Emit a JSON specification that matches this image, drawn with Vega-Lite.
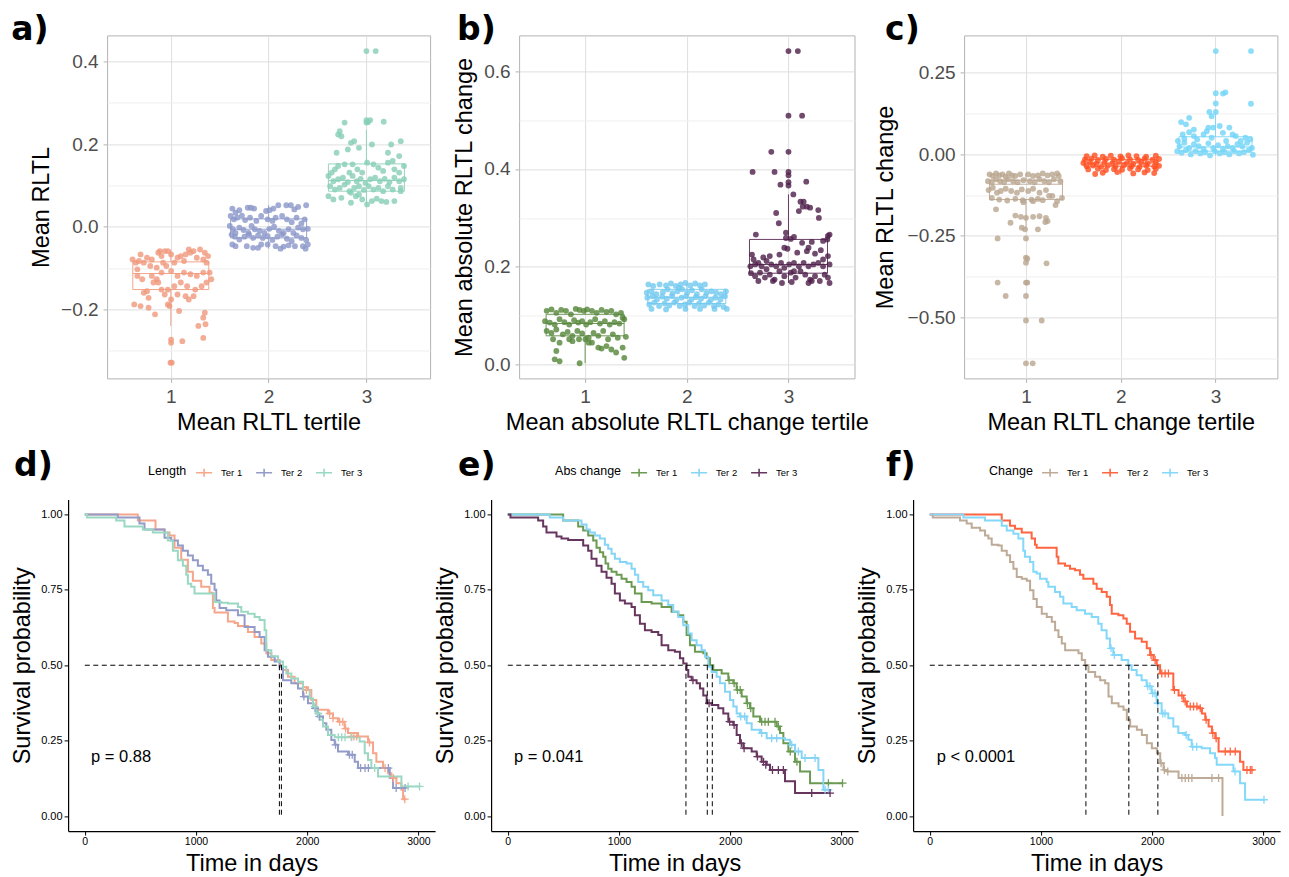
{
"$schema":"https://vega.github.io/schema/vega-lite/v6.json",
"background":"white",
"padding":{"left":10.1,"top":13.4,"right":5,"bottom":3},
"autosize":{"type":"pad"},
"config":{"font":"Liberation Sans","view":{"stroke":null},
"title":{"font":"DejaVu Sans","fontSize":33,"fontWeight":"bold","anchor":"start","frame":"group","color":"#000"},
"axis":{"titleFontWeight":"normal","titleColor":"#000","labelFont":"Liberation Sans","titleFont":"Liberation Sans"},
"legend":{"labelFont":"Liberation Sans","titleFont":"Liberation Sans"}},
"datasets":{
"box":[
{"p":"a","g":1,"lo":-0.24,"q1":-0.152,"med":-0.113,"q3":-0.085,"hi":-0.055},
{"p":"a","g":2,"lo":-0.053,"q1":-0.027,"med":-0.006,"q3":0.019,"hi":0.052},
{"p":"a","g":3,"lo":0.054,"q1":0.086,"med":0.112,"q3":0.152,"hi":0.235},
{"p":"b","g":1,"lo":0.003,"q1":0.059,"med":0.084,"q3":0.103,"hi":0.113},
{"p":"b","g":2,"lo":0.113,"q1":0.125,"med":0.138,"q3":0.154,"hi":0.167},
{"p":"b","g":3,"lo":0.167,"q1":0.187,"med":0.205,"q3":0.256,"hi":0.348},
{"p":"c","g":1,"lo":-0.23,"q1":-0.139,"med":-0.092,"q3":-0.08,"hi":-0.059},
{"p":"c","g":2,"lo":-0.062,"q1":-0.037,"med":-0.027,"q3":-0.016,"hi":-0.002},
{"p":"c","g":3,"lo":-0.004,"q1":0.009,"med":0.022,"q3":0.053,"hi":0.126}],
"pts":[
{"p":"a","g":1,"x":0.609,"y":-0.079},{"p":"a","g":1,"x":0.642,"y":-0.087},{"p":"a","g":1,"x":0.675,"y":-0.083},{"p":"a","g":1,"x":0.691,"y":-0.067},{"p":"a","g":1,"x":0.658,"y":-0.103},{"p":"a","g":1,"x":0.724,"y":-0.087},{"p":"a","g":1,"x":0.757,"y":-0.075},{"p":"a","g":1,"x":0.79,"y":-0.095},{"p":"a","g":1,"x":0.806,"y":-0.079},{"p":"a","g":1,"x":0.856,"y":-0.099},{"p":"a","g":1,"x":0.872,"y":-0.063},{"p":"a","g":1,"x":0.888,"y":-0.059},{"p":"a","g":1,"x":0.905,"y":-0.071},{"p":"a","g":1,"x":0.938,"y":-0.059},{"p":"a","g":1,"x":0.97,"y":-0.059},{"p":"a","g":1,"x":0.921,"y":-0.087},{"p":"a","g":1,"x":0.954,"y":-0.095},{"p":"a","g":1,"x":1.003,"y":-0.067},{"p":"a","g":1,"x":1.036,"y":-0.087},{"p":"a","g":1,"x":1.069,"y":-0.075},{"p":"a","g":1,"x":1.102,"y":-0.071},{"p":"a","g":1,"x":1.135,"y":-0.083},{"p":"a","g":1,"x":1.151,"y":-0.067},{"p":"a","g":1,"x":1.184,"y":-0.055},{"p":"a","g":1,"x":1.2,"y":-0.063},{"p":"a","g":1,"x":1.233,"y":-0.059},{"p":"a","g":1,"x":1.266,"y":-0.075},{"p":"a","g":1,"x":1.299,"y":-0.055},{"p":"a","g":1,"x":1.332,"y":-0.079},{"p":"a","g":1,"x":1.348,"y":-0.063},{"p":"a","g":1,"x":1.365,"y":-0.087},{"p":"a","g":1,"x":1.381,"y":-0.071},{"p":"a","g":1,"x":0.658,"y":-0.119},{"p":"a","g":1,"x":0.708,"y":-0.127},{"p":"a","g":1,"x":0.806,"y":-0.119},{"p":"a","g":1,"x":0.856,"y":-0.127},{"p":"a","g":1,"x":0.905,"y":-0.111},{"p":"a","g":1,"x":1.003,"y":-0.107},{"p":"a","g":1,"x":1.069,"y":-0.119},{"p":"a","g":1,"x":1.135,"y":-0.111},{"p":"a","g":1,"x":1.2,"y":-0.115},{"p":"a","g":1,"x":1.266,"y":-0.119},{"p":"a","g":1,"x":1.332,"y":-0.111},{"p":"a","g":1,"x":1.397,"y":-0.111},{"p":"a","g":1,"x":0.724,"y":-0.16},{"p":"a","g":1,"x":0.757,"y":-0.156},{"p":"a","g":1,"x":0.823,"y":-0.135},{"p":"a","g":1,"x":0.872,"y":-0.135},{"p":"a","g":1,"x":0.97,"y":-0.152},{"p":"a","g":1,"x":1.036,"y":-0.144},{"p":"a","g":1,"x":1.102,"y":-0.135},{"p":"a","g":1,"x":1.167,"y":-0.144},{"p":"a","g":1,"x":1.25,"y":-0.152},{"p":"a","g":1,"x":1.315,"y":-0.144},{"p":"a","g":1,"x":1.365,"y":-0.135},{"p":"a","g":1,"x":0.691,"y":-0.192},{"p":"a","g":1,"x":0.773,"y":-0.172},{"p":"a","g":1,"x":0.938,"y":-0.164},{"p":"a","g":1,"x":1.003,"y":-0.176},{"p":"a","g":1,"x":1.069,"y":-0.164},{"p":"a","g":1,"x":1.184,"y":-0.176},{"p":"a","g":1,"x":1.233,"y":-0.168},{"p":"a","g":1,"x":0.626,"y":-0.188},{"p":"a","g":1,"x":0.773,"y":-0.196},{"p":"a","g":1,"x":0.839,"y":-0.212},{"p":"a","g":1,"x":0.97,"y":-0.188},{"p":"a","g":1,"x":0.987,"y":-0.192},{"p":"a","g":1,"x":1.085,"y":-0.204},{"p":"a","g":1,"x":1.151,"y":-0.168},{"p":"a","g":1,"x":1.348,"y":-0.208},{"p":"a","g":1,"x":1.332,"y":-0.22},{"p":"a","g":1,"x":1.355,"y":-0.236},{"p":"a","g":1,"x":1.282,"y":-0.24},{"p":"a","g":1,"x":1.003,"y":-0.273},{"p":"a","g":1,"x":1.003,"y":-0.281},{"p":"a","g":1,"x":1.118,"y":-0.277},{"p":"a","g":1,"x":1.332,"y":-0.269},{"p":"a","g":1,"x":0.997,"y":-0.329},{"p":"a","g":1,"x":1.01,"y":-0.329},{"p":"a","g":1,"x":0.905,"y":-0.152},{"p":"a","g":1,"x":1.414,"y":-0.127},
{"p":"a","g":2,"x":1.629,"y":0.044},{"p":"a","g":2,"x":1.662,"y":0.034},{"p":"a","g":2,"x":1.701,"y":0.04},{"p":"a","g":2,"x":1.787,"y":0.046},{"p":"a","g":2,"x":1.819,"y":0.046},{"p":"a","g":2,"x":1.852,"y":0.044},{"p":"a","g":2,"x":1.974,"y":0.038},{"p":"a","g":2,"x":2.01,"y":0.04},{"p":"a","g":2,"x":2.049,"y":0.044},{"p":"a","g":2,"x":2.099,"y":0.052},{"p":"a","g":2,"x":2.181,"y":0.052},{"p":"a","g":2,"x":2.227,"y":0.052},{"p":"a","g":2,"x":2.263,"y":0.042},{"p":"a","g":2,"x":2.384,"y":0.052},{"p":"a","g":2,"x":2.302,"y":0.048},{"p":"a","g":2,"x":1.612,"y":0.026},{"p":"a","g":2,"x":1.645,"y":0.018},{"p":"a","g":2,"x":1.678,"y":0.022},{"p":"a","g":2,"x":1.727,"y":0.027},{"p":"a","g":2,"x":1.76,"y":0.016},{"p":"a","g":2,"x":1.81,"y":0.022},{"p":"a","g":2,"x":1.875,"y":0.014},{"p":"a","g":2,"x":1.924,"y":0.026},{"p":"a","g":2,"x":1.99,"y":0.018},{"p":"a","g":2,"x":2.039,"y":0.014},{"p":"a","g":2,"x":2.072,"y":0.022},{"p":"a","g":2,"x":2.138,"y":0.026},{"p":"a","g":2,"x":2.187,"y":0.018},{"p":"a","g":2,"x":2.236,"y":0.011},{"p":"a","g":2,"x":2.286,"y":0.022},{"p":"a","g":2,"x":2.335,"y":0.008},{"p":"a","g":2,"x":2.368,"y":0.018},{"p":"a","g":2,"x":1.603,"y":0.002},{"p":"a","g":2,"x":1.635,"y":-0.006},{"p":"a","g":2,"x":1.662,"y":-0.015},{"p":"a","g":2,"x":1.701,"y":-0.002},{"p":"a","g":2,"x":1.744,"y":-0.008},{"p":"a","g":2,"x":1.793,"y":-0.015},{"p":"a","g":2,"x":1.826,"y":0.002},{"p":"a","g":2,"x":1.859,"y":-0.006},{"p":"a","g":2,"x":1.908,"y":-0.01},{"p":"a","g":2,"x":1.957,"y":-0.015},{"p":"a","g":2,"x":2.007,"y":-0.005},{"p":"a","g":2,"x":2.056,"y":0.0},{"p":"a","g":2,"x":2.105,"y":-0.01},{"p":"a","g":2,"x":2.154,"y":-0.015},{"p":"a","g":2,"x":2.204,"y":-0.006},{"p":"a","g":2,"x":2.253,"y":-0.015},{"p":"a","g":2,"x":2.302,"y":-0.002},{"p":"a","g":2,"x":2.351,"y":-0.006},{"p":"a","g":2,"x":2.401,"y":-0.005},{"p":"a","g":2,"x":1.622,"y":-0.019},{"p":"a","g":2,"x":1.655,"y":-0.024},{"p":"a","g":2,"x":1.701,"y":-0.031},{"p":"a","g":2,"x":1.753,"y":-0.024},{"p":"a","g":2,"x":1.8,"y":-0.019},{"p":"a","g":2,"x":1.842,"y":-0.027},{"p":"a","g":2,"x":1.892,"y":-0.021},{"p":"a","g":2,"x":1.941,"y":-0.027},{"p":"a","g":2,"x":1.99,"y":-0.023},{"p":"a","g":2,"x":2.039,"y":-0.032},{"p":"a","g":2,"x":2.089,"y":-0.024},{"p":"a","g":2,"x":2.138,"y":-0.019},{"p":"a","g":2,"x":2.187,"y":-0.029},{"p":"a","g":2,"x":2.236,"y":-0.035},{"p":"a","g":2,"x":2.286,"y":-0.021},{"p":"a","g":2,"x":2.335,"y":-0.027},{"p":"a","g":2,"x":2.384,"y":-0.032},{"p":"a","g":2,"x":1.629,"y":-0.043},{"p":"a","g":2,"x":1.662,"y":-0.047},{"p":"a","g":2,"x":1.777,"y":-0.047},{"p":"a","g":2,"x":1.892,"y":-0.051},{"p":"a","g":2,"x":1.99,"y":-0.043},{"p":"a","g":2,"x":2.072,"y":-0.047},{"p":"a","g":2,"x":2.154,"y":-0.048},{"p":"a","g":2,"x":2.204,"y":-0.045},{"p":"a","g":2,"x":2.269,"y":-0.047},{"p":"a","g":2,"x":2.351,"y":-0.047},{"p":"a","g":2,"x":2.401,"y":-0.043},{"p":"a","g":2,"x":2.378,"y":-0.053},{"p":"a","g":2,"x":1.842,"y":-0.051},{"p":"a","g":2,"x":2.122,"y":-0.053},{"p":"a","g":2,"x":1.924,"y":-0.043},
{"p":"a","g":3,"x":3.0,"y":0.425},{"p":"a","g":3,"x":3.095,"y":0.425},{"p":"a","g":3,"x":3.0,"y":0.258},{"p":"a","g":3,"x":3.016,"y":0.253},{"p":"a","g":3,"x":3.039,"y":0.258},{"p":"a","g":3,"x":3.0,"y":0.252},{"p":"a","g":3,"x":3.177,"y":0.254},{"p":"a","g":3,"x":2.777,"y":0.252},{"p":"a","g":3,"x":2.711,"y":0.223},{"p":"a","g":3,"x":2.727,"y":0.231},{"p":"a","g":3,"x":2.744,"y":0.219},{"p":"a","g":3,"x":2.842,"y":0.203},{"p":"a","g":3,"x":2.875,"y":0.207},{"p":"a","g":3,"x":2.924,"y":0.191},{"p":"a","g":3,"x":2.81,"y":0.187},{"p":"a","g":3,"x":2.695,"y":0.179},{"p":"a","g":3,"x":3.056,"y":0.199},{"p":"a","g":3,"x":3.253,"y":0.199},{"p":"a","g":3,"x":3.351,"y":0.207},{"p":"a","g":3,"x":3.22,"y":0.179},{"p":"a","g":3,"x":3.335,"y":0.171},{"p":"a","g":3,"x":3.269,"y":0.159},{"p":"a","g":3,"x":2.645,"y":0.131},{"p":"a","g":3,"x":2.678,"y":0.139},{"p":"a","g":3,"x":2.711,"y":0.147},{"p":"a","g":3,"x":2.777,"y":0.151},{"p":"a","g":3,"x":2.826,"y":0.131},{"p":"a","g":3,"x":2.859,"y":0.151},{"p":"a","g":3,"x":2.908,"y":0.139},{"p":"a","g":3,"x":2.957,"y":0.131},{"p":"a","g":3,"x":3.007,"y":0.155},{"p":"a","g":3,"x":3.072,"y":0.151},{"p":"a","g":3,"x":3.122,"y":0.143},{"p":"a","g":3,"x":3.171,"y":0.135},{"p":"a","g":3,"x":3.22,"y":0.155},{"p":"a","g":3,"x":3.286,"y":0.139},{"p":"a","g":3,"x":3.335,"y":0.131},{"p":"a","g":3,"x":3.384,"y":0.147},{"p":"a","g":3,"x":2.612,"y":0.123},{"p":"a","g":3,"x":2.662,"y":0.11},{"p":"a","g":3,"x":2.711,"y":0.115},{"p":"a","g":3,"x":2.76,"y":0.119},{"p":"a","g":3,"x":2.81,"y":0.108},{"p":"a","g":3,"x":2.859,"y":0.123},{"p":"a","g":3,"x":2.901,"y":0.11},{"p":"a","g":3,"x":2.941,"y":0.116},{"p":"a","g":3,"x":2.99,"y":0.106},{"p":"a","g":3,"x":3.039,"y":0.115},{"p":"a","g":3,"x":3.089,"y":0.119},{"p":"a","g":3,"x":3.138,"y":0.11},{"p":"a","g":3,"x":3.187,"y":0.116},{"p":"a","g":3,"x":3.236,"y":0.108},{"p":"a","g":3,"x":3.286,"y":0.119},{"p":"a","g":3,"x":3.335,"y":0.11},{"p":"a","g":3,"x":3.384,"y":0.115},{"p":"a","g":3,"x":2.629,"y":0.098},{"p":"a","g":3,"x":2.678,"y":0.09},{"p":"a","g":3,"x":2.727,"y":0.094},{"p":"a","g":3,"x":2.777,"y":0.102},{"p":"a","g":3,"x":2.826,"y":0.086},{"p":"a","g":3,"x":2.875,"y":0.094},{"p":"a","g":3,"x":2.924,"y":0.098},{"p":"a","g":3,"x":2.974,"y":0.089},{"p":"a","g":3,"x":3.023,"y":0.098},{"p":"a","g":3,"x":3.072,"y":0.09},{"p":"a","g":3,"x":3.122,"y":0.094},{"p":"a","g":3,"x":3.171,"y":0.086},{"p":"a","g":3,"x":3.22,"y":0.098},{"p":"a","g":3,"x":3.269,"y":0.09},{"p":"a","g":3,"x":3.351,"y":0.094},{"p":"a","g":3,"x":2.612,"y":0.074},{"p":"a","g":3,"x":2.662,"y":0.066},{"p":"a","g":3,"x":2.744,"y":0.07},{"p":"a","g":3,"x":2.842,"y":0.058},{"p":"a","g":3,"x":2.892,"y":0.074},{"p":"a","g":3,"x":2.957,"y":0.066},{"p":"a","g":3,"x":3.007,"y":0.054},{"p":"a","g":3,"x":3.056,"y":0.062},{"p":"a","g":3,"x":3.105,"y":0.068},{"p":"a","g":3,"x":3.154,"y":0.062},{"p":"a","g":3,"x":3.204,"y":0.06},{"p":"a","g":3,"x":3.286,"y":0.062},{"p":"a","g":3,"x":2.842,"y":0.082},{"p":"a","g":3,"x":2.924,"y":0.078},{"p":"a","g":3,"x":3.351,"y":0.086},
{"p":"b","g":1,"x":0.622,"y":0.11},{"p":"b","g":1,"x":0.669,"y":0.113},{"p":"b","g":1,"x":0.717,"y":0.106},{"p":"b","g":1,"x":0.765,"y":0.112},{"p":"b","g":1,"x":0.812,"y":0.11},{"p":"b","g":1,"x":0.86,"y":0.103},{"p":"b","g":1,"x":0.908,"y":0.114},{"p":"b","g":1,"x":0.946,"y":0.112},{"p":"b","g":1,"x":0.987,"y":0.11},{"p":"b","g":1,"x":1.019,"y":0.113},{"p":"b","g":1,"x":1.067,"y":0.11},{"p":"b","g":1,"x":1.114,"y":0.106},{"p":"b","g":1,"x":1.162,"y":0.112},{"p":"b","g":1,"x":1.21,"y":0.108},{"p":"b","g":1,"x":1.258,"y":0.11},{"p":"b","g":1,"x":1.305,"y":0.103},{"p":"b","g":1,"x":1.353,"y":0.106},{"p":"b","g":1,"x":1.369,"y":0.096},{"p":"b","g":1,"x":1.385,"y":0.093},{"p":"b","g":1,"x":0.606,"y":0.089},{"p":"b","g":1,"x":0.653,"y":0.086},{"p":"b","g":1,"x":0.701,"y":0.082},{"p":"b","g":1,"x":0.749,"y":0.093},{"p":"b","g":1,"x":0.797,"y":0.087},{"p":"b","g":1,"x":0.844,"y":0.082},{"p":"b","g":1,"x":0.892,"y":0.091},{"p":"b","g":1,"x":0.933,"y":0.086},{"p":"b","g":1,"x":0.971,"y":0.089},{"p":"b","g":1,"x":1.01,"y":0.082},{"p":"b","g":1,"x":1.051,"y":0.087},{"p":"b","g":1,"x":1.099,"y":0.093},{"p":"b","g":1,"x":1.146,"y":0.084},{"p":"b","g":1,"x":1.194,"y":0.089},{"p":"b","g":1,"x":1.242,"y":0.082},{"p":"b","g":1,"x":1.289,"y":0.087},{"p":"b","g":1,"x":1.337,"y":0.084},{"p":"b","g":1,"x":0.622,"y":0.069},{"p":"b","g":1,"x":0.669,"y":0.065},{"p":"b","g":1,"x":0.717,"y":0.072},{"p":"b","g":1,"x":0.781,"y":0.062},{"p":"b","g":1,"x":0.828,"y":0.067},{"p":"b","g":1,"x":0.876,"y":0.059},{"p":"b","g":1,"x":0.924,"y":0.069},{"p":"b","g":1,"x":0.971,"y":0.064},{"p":"b","g":1,"x":1.035,"y":0.055},{"p":"b","g":1,"x":1.083,"y":0.065},{"p":"b","g":1,"x":1.13,"y":0.059},{"p":"b","g":1,"x":1.178,"y":0.069},{"p":"b","g":1,"x":1.226,"y":0.052},{"p":"b","g":1,"x":1.273,"y":0.062},{"p":"b","g":1,"x":1.321,"y":0.055},{"p":"b","g":1,"x":1.401,"y":0.057},{"p":"b","g":1,"x":0.685,"y":0.052},{"p":"b","g":1,"x":0.749,"y":0.045},{"p":"b","g":1,"x":0.876,"y":0.048},{"p":"b","g":1,"x":0.94,"y":0.052},{"p":"b","g":1,"x":1.067,"y":0.045},{"p":"b","g":1,"x":1.13,"y":0.035},{"p":"b","g":1,"x":1.162,"y":0.033},{"p":"b","g":1,"x":1.21,"y":0.038},{"p":"b","g":1,"x":1.258,"y":0.031},{"p":"b","g":1,"x":1.369,"y":0.035},{"p":"b","g":1,"x":1.305,"y":0.025},{"p":"b","g":1,"x":1.385,"y":0.014},{"p":"b","g":1,"x":0.717,"y":0.028},{"p":"b","g":1,"x":0.701,"y":0.011},{"p":"b","g":1,"x":0.749,"y":0.007},{"p":"b","g":1,"x":0.946,"y":0.003},{"p":"b","g":1,"x":1.003,"y":0.052},{"p":"b","g":1,"x":1.035,"y":0.045},{"p":"b","g":1,"x":0.844,"y":0.052},
{"p":"b","g":2,"x":1.622,"y":0.164},{"p":"b","g":2,"x":1.669,"y":0.161},{"p":"b","g":2,"x":1.733,"y":0.164},{"p":"b","g":2,"x":1.796,"y":0.162},{"p":"b","g":2,"x":1.844,"y":0.166},{"p":"b","g":2,"x":1.892,"y":0.161},{"p":"b","g":2,"x":1.94,"y":0.164},{"p":"b","g":2,"x":1.987,"y":0.167},{"p":"b","g":2,"x":2.035,"y":0.162},{"p":"b","g":2,"x":2.083,"y":0.166},{"p":"b","g":2,"x":2.13,"y":0.162},{"p":"b","g":2,"x":2.178,"y":0.164},{"p":"b","g":2,"x":1.924,"y":0.157},{"p":"b","g":2,"x":1.606,"y":0.147},{"p":"b","g":2,"x":1.653,"y":0.15},{"p":"b","g":2,"x":1.701,"y":0.144},{"p":"b","g":2,"x":1.765,"y":0.148},{"p":"b","g":2,"x":1.812,"y":0.154},{"p":"b","g":2,"x":1.86,"y":0.146},{"p":"b","g":2,"x":1.908,"y":0.15},{"p":"b","g":2,"x":1.955,"y":0.154},{"p":"b","g":2,"x":2.003,"y":0.147},{"p":"b","g":2,"x":2.051,"y":0.152},{"p":"b","g":2,"x":2.099,"y":0.144},{"p":"b","g":2,"x":2.146,"y":0.154},{"p":"b","g":2,"x":2.194,"y":0.147},{"p":"b","g":2,"x":2.242,"y":0.15},{"p":"b","g":2,"x":2.289,"y":0.147},{"p":"b","g":2,"x":2.337,"y":0.144},{"p":"b","g":2,"x":2.385,"y":0.15},{"p":"b","g":2,"x":1.612,"y":0.137},{"p":"b","g":2,"x":1.663,"y":0.14},{"p":"b","g":2,"x":1.707,"y":0.133},{"p":"b","g":2,"x":1.758,"y":0.139},{"p":"b","g":2,"x":1.803,"y":0.135},{"p":"b","g":2,"x":1.854,"y":0.14},{"p":"b","g":2,"x":1.898,"y":0.132},{"p":"b","g":2,"x":1.949,"y":0.137},{"p":"b","g":2,"x":1.994,"y":0.14},{"p":"b","g":2,"x":2.045,"y":0.133},{"p":"b","g":2,"x":2.089,"y":0.138},{"p":"b","g":2,"x":2.14,"y":0.135},{"p":"b","g":2,"x":2.184,"y":0.14},{"p":"b","g":2,"x":2.235,"y":0.132},{"p":"b","g":2,"x":2.28,"y":0.137},{"p":"b","g":2,"x":2.331,"y":0.133},{"p":"b","g":2,"x":2.375,"y":0.14},{"p":"b","g":2,"x":1.631,"y":0.123},{"p":"b","g":2,"x":1.679,"y":0.127},{"p":"b","g":2,"x":1.727,"y":0.12},{"p":"b","g":2,"x":1.781,"y":0.125},{"p":"b","g":2,"x":1.828,"y":0.121},{"p":"b","g":2,"x":1.876,"y":0.127},{"p":"b","g":2,"x":1.93,"y":0.12},{"p":"b","g":2,"x":1.981,"y":0.123},{"p":"b","g":2,"x":2.025,"y":0.127},{"p":"b","g":2,"x":2.076,"y":0.12},{"p":"b","g":2,"x":2.121,"y":0.125},{"p":"b","g":2,"x":2.172,"y":0.121},{"p":"b","g":2,"x":2.216,"y":0.127},{"p":"b","g":2,"x":2.267,"y":0.12},{"p":"b","g":2,"x":2.312,"y":0.123},{"p":"b","g":2,"x":2.362,"y":0.118},{"p":"b","g":2,"x":2.394,"y":0.114},{"p":"b","g":2,"x":1.653,"y":0.114},{"p":"b","g":2,"x":1.796,"y":0.113},{"p":"b","g":2,"x":1.987,"y":0.114},{"p":"b","g":2,"x":2.13,"y":0.114},{"p":"b","g":2,"x":2.273,"y":0.114},
{"p":"b","g":3,"x":3.0,"y":0.641},{"p":"b","g":3,"x":3.092,"y":0.641},{"p":"b","g":3,"x":3.0,"y":0.509},{"p":"b","g":3,"x":3.134,"y":0.509},{"p":"b","g":3,"x":2.831,"y":0.435},{"p":"b","g":3,"x":3.0,"y":0.435},{"p":"b","g":3,"x":2.647,"y":0.394},{"p":"b","g":3,"x":2.863,"y":0.394},{"p":"b","g":3,"x":3.0,"y":0.394},{"p":"b","g":3,"x":3.0,"y":0.387},{"p":"b","g":3,"x":2.921,"y":0.368},{"p":"b","g":3,"x":3.0,"y":0.373},{"p":"b","g":3,"x":3.0,"y":0.366},{"p":"b","g":3,"x":3.175,"y":0.374},{"p":"b","g":3,"x":3.048,"y":0.348},{"p":"b","g":3,"x":2.879,"y":0.31},{"p":"b","g":3,"x":3.102,"y":0.314},{"p":"b","g":3,"x":3.14,"y":0.323},{"p":"b","g":3,"x":3.181,"y":0.323},{"p":"b","g":3,"x":3.213,"y":0.321},{"p":"b","g":3,"x":3.118,"y":0.333},{"p":"b","g":3,"x":3.149,"y":0.333},{"p":"b","g":3,"x":3.293,"y":0.316},{"p":"b","g":3,"x":3.299,"y":0.3},{"p":"b","g":3,"x":2.905,"y":0.289},{"p":"b","g":3,"x":2.975,"y":0.27},{"p":"b","g":3,"x":3.054,"y":0.261},{"p":"b","g":3,"x":2.679,"y":0.266},{"p":"b","g":3,"x":2.975,"y":0.259},{"p":"b","g":3,"x":3.022,"y":0.257},{"p":"b","g":3,"x":3.229,"y":0.251},{"p":"b","g":3,"x":3.34,"y":0.253},{"p":"b","g":3,"x":3.382,"y":0.256},{"p":"b","g":3,"x":3.388,"y":0.263},{"p":"b","g":3,"x":3.404,"y":0.266},{"p":"b","g":3,"x":3.197,"y":0.239},{"p":"b","g":3,"x":3.134,"y":0.249},{"p":"b","g":3,"x":2.641,"y":0.225},{"p":"b","g":3,"x":2.657,"y":0.215},{"p":"b","g":3,"x":2.752,"y":0.219},{"p":"b","g":3,"x":2.816,"y":0.222},{"p":"b","g":3,"x":2.911,"y":0.225},{"p":"b","g":3,"x":2.959,"y":0.239},{"p":"b","g":3,"x":2.99,"y":0.237},{"p":"b","g":3,"x":3.086,"y":0.229},{"p":"b","g":3,"x":3.181,"y":0.232},{"p":"b","g":3,"x":3.261,"y":0.227},{"p":"b","g":3,"x":3.318,"y":0.234},{"p":"b","g":3,"x":3.388,"y":0.222},{"p":"b","g":3,"x":3.34,"y":0.215},{"p":"b","g":3,"x":2.625,"y":0.201},{"p":"b","g":3,"x":2.672,"y":0.205},{"p":"b","g":3,"x":2.704,"y":0.208},{"p":"b","g":3,"x":2.736,"y":0.201},{"p":"b","g":3,"x":2.784,"y":0.212},{"p":"b","g":3,"x":2.831,"y":0.205},{"p":"b","g":3,"x":2.879,"y":0.201},{"p":"b","g":3,"x":2.927,"y":0.208},{"p":"b","g":3,"x":2.959,"y":0.198},{"p":"b","g":3,"x":3.006,"y":0.205},{"p":"b","g":3,"x":3.054,"y":0.208},{"p":"b","g":3,"x":3.102,"y":0.201},{"p":"b","g":3,"x":3.149,"y":0.208},{"p":"b","g":3,"x":3.197,"y":0.201},{"p":"b","g":3,"x":3.245,"y":0.205},{"p":"b","g":3,"x":3.293,"y":0.208},{"p":"b","g":3,"x":3.34,"y":0.201},{"p":"b","g":3,"x":3.404,"y":0.205},{"p":"b","g":3,"x":2.631,"y":0.187},{"p":"b","g":3,"x":2.672,"y":0.181},{"p":"b","g":3,"x":2.72,"y":0.188},{"p":"b","g":3,"x":2.768,"y":0.178},{"p":"b","g":3,"x":2.816,"y":0.184},{"p":"b","g":3,"x":2.863,"y":0.174},{"p":"b","g":3,"x":2.911,"y":0.191},{"p":"b","g":3,"x":2.959,"y":0.181},{"p":"b","g":3,"x":3.022,"y":0.188},{"p":"b","g":3,"x":3.07,"y":0.178},{"p":"b","g":3,"x":3.118,"y":0.191},{"p":"b","g":3,"x":3.165,"y":0.184},{"p":"b","g":3,"x":3.213,"y":0.174},{"p":"b","g":3,"x":3.261,"y":0.181},{"p":"b","g":3,"x":3.308,"y":0.171},{"p":"b","g":3,"x":3.356,"y":0.184},{"p":"b","g":3,"x":3.388,"y":0.178},{"p":"b","g":3,"x":2.704,"y":0.171},{"p":"b","g":3,"x":2.847,"y":0.171},{"p":"b","g":3,"x":2.936,"y":0.167},{"p":"b","g":3,"x":3.032,"y":0.169},{"p":"b","g":3,"x":3.197,"y":0.167},{"p":"b","g":3,"x":3.229,"y":0.171},{"p":"b","g":3,"x":3.404,"y":0.167},{"p":"b","g":3,"x":2.784,"y":0.195},{"p":"b","g":3,"x":3.054,"y":0.191},
{"p":"c","g":1,"x":0.616,"y":-0.062},{"p":"c","g":1,"x":0.65,"y":-0.067},{"p":"c","g":1,"x":0.684,"y":-0.059},{"p":"c","g":1,"x":0.718,"y":-0.065},{"p":"c","g":1,"x":0.752,"y":-0.062},{"p":"c","g":1,"x":0.786,"y":-0.069},{"p":"c","g":1,"x":0.82,"y":-0.059},{"p":"c","g":1,"x":0.854,"y":-0.065},{"p":"c","g":1,"x":0.888,"y":-0.067},{"p":"c","g":1,"x":0.939,"y":-0.062},{"p":"c","g":1,"x":1.024,"y":-0.062},{"p":"c","g":1,"x":1.075,"y":-0.067},{"p":"c","g":1,"x":1.126,"y":-0.065},{"p":"c","g":1,"x":1.177,"y":-0.059},{"p":"c","g":1,"x":1.228,"y":-0.065},{"p":"c","g":1,"x":1.278,"y":-0.062},{"p":"c","g":1,"x":1.329,"y":-0.059},{"p":"c","g":1,"x":1.346,"y":-0.067},{"p":"c","g":1,"x":0.599,"y":-0.083},{"p":"c","g":1,"x":0.64,"y":-0.086},{"p":"c","g":1,"x":0.684,"y":-0.077},{"p":"c","g":1,"x":0.728,"y":-0.083},{"p":"c","g":1,"x":0.769,"y":-0.086},{"p":"c","g":1,"x":0.81,"y":-0.077},{"p":"c","g":1,"x":0.864,"y":-0.083},{"p":"c","g":1,"x":0.912,"y":-0.086},{"p":"c","g":1,"x":0.973,"y":-0.08},{"p":"c","g":1,"x":1.041,"y":-0.083},{"p":"c","g":1,"x":1.092,"y":-0.086},{"p":"c","g":1,"x":1.143,"y":-0.077},{"p":"c","g":1,"x":1.194,"y":-0.083},{"p":"c","g":1,"x":1.244,"y":-0.086},{"p":"c","g":1,"x":1.295,"y":-0.077},{"p":"c","g":1,"x":1.363,"y":-0.083},{"p":"c","g":1,"x":0.606,"y":-0.11},{"p":"c","g":1,"x":0.65,"y":-0.103},{"p":"c","g":1,"x":0.694,"y":-0.118},{"p":"c","g":1,"x":0.735,"y":-0.113},{"p":"c","g":1,"x":0.786,"y":-0.106},{"p":"c","g":1,"x":0.844,"y":-0.113},{"p":"c","g":1,"x":0.905,"y":-0.118},{"p":"c","g":1,"x":0.956,"y":-0.108},{"p":"c","g":1,"x":1.024,"y":-0.113},{"p":"c","g":1,"x":1.075,"y":-0.106},{"p":"c","g":1,"x":1.143,"y":-0.118},{"p":"c","g":1,"x":1.211,"y":-0.11},{"p":"c","g":1,"x":1.278,"y":-0.128},{"p":"c","g":1,"x":1.329,"y":-0.144},{"p":"c","g":1,"x":1.38,"y":-0.134},{"p":"c","g":1,"x":0.64,"y":-0.134},{"p":"c","g":1,"x":0.718,"y":-0.139},{"p":"c","g":1,"x":0.803,"y":-0.142},{"p":"c","g":1,"x":0.888,"y":-0.137},{"p":"c","g":1,"x":0.966,"y":-0.141},{"p":"c","g":1,"x":1.058,"y":-0.139},{"p":"c","g":1,"x":1.126,"y":-0.137},{"p":"c","g":1,"x":1.177,"y":-0.141},{"p":"c","g":1,"x":1.244,"y":-0.128},{"p":"c","g":1,"x":0.973,"y":-0.147},{"p":"c","g":1,"x":1.075,"y":-0.144},{"p":"c","g":1,"x":0.684,"y":-0.169},{"p":"c","g":1,"x":0.837,"y":-0.21},{"p":"c","g":1,"x":0.888,"y":-0.188},{"p":"c","g":1,"x":0.946,"y":-0.192},{"p":"c","g":1,"x":1.0,"y":-0.195},{"p":"c","g":1,"x":1.075,"y":-0.192},{"p":"c","g":1,"x":1.143,"y":-0.19},{"p":"c","g":1,"x":1.211,"y":-0.195},{"p":"c","g":1,"x":1.228,"y":-0.205},{"p":"c","g":1,"x":1.126,"y":-0.23},{"p":"c","g":1,"x":1.204,"y":-0.208},{"p":"c","g":1,"x":0.956,"y":-0.225},{"p":"c","g":1,"x":0.99,"y":-0.23},{"p":"c","g":1,"x":0.701,"y":-0.258},{"p":"c","g":1,"x":1.0,"y":-0.258},{"p":"c","g":1,"x":1.0,"y":-0.317},{"p":"c","g":1,"x":1.014,"y":-0.32},{"p":"c","g":1,"x":1.0,"y":-0.332},{"p":"c","g":1,"x":1.217,"y":-0.334},{"p":"c","g":1,"x":0.701,"y":-0.393},{"p":"c","g":1,"x":1.0,"y":-0.393},{"p":"c","g":1,"x":1.014,"y":-0.393},{"p":"c","g":1,"x":0.786,"y":-0.434},{"p":"c","g":1,"x":1.0,"y":-0.434},{"p":"c","g":1,"x":1.0,"y":-0.509},{"p":"c","g":1,"x":1.166,"y":-0.509},{"p":"c","g":1,"x":1.0,"y":-0.64},{"p":"c","g":1,"x":1.071,"y":-0.64},{"p":"c","g":1,"x":1.312,"y":-0.156},
{"p":"c","g":2,"x":1.64,"y":-0.006},{"p":"c","g":2,"x":1.725,"y":-0.004},{"p":"c","g":2,"x":1.81,"y":-0.008},{"p":"c","g":2,"x":1.895,"y":-0.005},{"p":"c","g":2,"x":1.997,"y":-0.007},{"p":"c","g":2,"x":2.081,"y":-0.004},{"p":"c","g":2,"x":2.166,"y":-0.006},{"p":"c","g":2,"x":2.268,"y":-0.008},{"p":"c","g":2,"x":2.37,"y":-0.005},{"p":"c","g":2,"x":1.623,"y":-0.016},{"p":"c","g":2,"x":1.691,"y":-0.014},{"p":"c","g":2,"x":1.759,"y":-0.018},{"p":"c","g":2,"x":1.844,"y":-0.015},{"p":"c","g":2,"x":1.929,"y":-0.017},{"p":"c","g":2,"x":2.014,"y":-0.013},{"p":"c","g":2,"x":2.098,"y":-0.016},{"p":"c","g":2,"x":2.183,"y":-0.018},{"p":"c","g":2,"x":2.251,"y":-0.014},{"p":"c","g":2,"x":2.336,"y":-0.017},{"p":"c","g":2,"x":2.404,"y":-0.015},{"p":"c","g":2,"x":1.606,"y":-0.027},{"p":"c","g":2,"x":1.674,"y":-0.025},{"p":"c","g":2,"x":1.742,"y":-0.029},{"p":"c","g":2,"x":1.827,"y":-0.026},{"p":"c","g":2,"x":1.912,"y":-0.028},{"p":"c","g":2,"x":1.98,"y":-0.024},{"p":"c","g":2,"x":2.065,"y":-0.027},{"p":"c","g":2,"x":2.132,"y":-0.029},{"p":"c","g":2,"x":2.217,"y":-0.025},{"p":"c","g":2,"x":2.285,"y":-0.028},{"p":"c","g":2,"x":2.37,"y":-0.026},{"p":"c","g":2,"x":1.64,"y":-0.037},{"p":"c","g":2,"x":1.708,"y":-0.035},{"p":"c","g":2,"x":1.793,"y":-0.039},{"p":"c","g":2,"x":1.861,"y":-0.036},{"p":"c","g":2,"x":1.946,"y":-0.038},{"p":"c","g":2,"x":2.031,"y":-0.034},{"p":"c","g":2,"x":2.115,"y":-0.037},{"p":"c","g":2,"x":2.2,"y":-0.039},{"p":"c","g":2,"x":2.268,"y":-0.035},{"p":"c","g":2,"x":2.353,"y":-0.038},{"p":"c","g":2,"x":2.404,"y":-0.036},{"p":"c","g":2,"x":1.657,"y":-0.047},{"p":"c","g":2,"x":1.759,"y":-0.045},{"p":"c","g":2,"x":1.844,"y":-0.049},{"p":"c","g":2,"x":1.929,"y":-0.046},{"p":"c","g":2,"x":2.014,"y":-0.048},{"p":"c","g":2,"x":2.098,"y":-0.044},{"p":"c","g":2,"x":2.183,"y":-0.047},{"p":"c","g":2,"x":2.285,"y":-0.049},{"p":"c","g":2,"x":2.37,"y":-0.045},{"p":"c","g":2,"x":1.81,"y":-0.057},{"p":"c","g":2,"x":1.963,"y":-0.055},{"p":"c","g":2,"x":2.132,"y":-0.059},{"p":"c","g":2,"x":2.251,"y":-0.056},{"p":"c","g":2,"x":2.353,"y":-0.058},{"p":"c","g":2,"x":1.73,"y":-0.061},
{"p":"c","g":3,"x":3.003,"y":0.315},{"p":"c","g":3,"x":3.374,"y":0.315},{"p":"c","g":3,"x":3.003,"y":0.186},{"p":"c","g":3,"x":3.078,"y":0.185},{"p":"c","g":3,"x":3.105,"y":0.189},{"p":"c","g":3,"x":3.374,"y":0.154},{"p":"c","g":3,"x":3.003,"y":0.155},{"p":"c","g":3,"x":2.935,"y":0.129},{"p":"c","g":3,"x":3.003,"y":0.129},{"p":"c","g":3,"x":2.959,"y":0.116},{"p":"c","g":3,"x":2.637,"y":0.098},{"p":"c","g":3,"x":2.722,"y":0.111},{"p":"c","g":3,"x":2.688,"y":0.091},{"p":"c","g":3,"x":2.772,"y":0.075},{"p":"c","g":3,"x":2.908,"y":0.07},{"p":"c","g":3,"x":2.976,"y":0.081},{"p":"c","g":3,"x":3.044,"y":0.086},{"p":"c","g":3,"x":3.146,"y":0.081},{"p":"c","g":3,"x":2.925,"y":0.081},{"p":"c","g":3,"x":2.603,"y":0.04},{"p":"c","g":3,"x":2.654,"y":0.06},{"p":"c","g":3,"x":2.722,"y":0.067},{"p":"c","g":3,"x":2.772,"y":0.055},{"p":"c","g":3,"x":2.874,"y":0.06},{"p":"c","g":3,"x":2.959,"y":0.05},{"p":"c","g":3,"x":3.078,"y":0.065},{"p":"c","g":3,"x":3.18,"y":0.06},{"p":"c","g":3,"x":3.214,"y":0.055},{"p":"c","g":3,"x":3.316,"y":0.05},{"p":"c","g":3,"x":3.367,"y":0.045},{"p":"c","g":3,"x":2.62,"y":0.024},{"p":"c","g":3,"x":2.671,"y":0.035},{"p":"c","g":3,"x":2.722,"y":0.019},{"p":"c","g":3,"x":2.772,"y":0.03},{"p":"c","g":3,"x":2.823,"y":0.024},{"p":"c","g":3,"x":2.874,"y":0.016},{"p":"c","g":3,"x":2.925,"y":0.033},{"p":"c","g":3,"x":2.976,"y":0.019},{"p":"c","g":3,"x":3.027,"y":0.027},{"p":"c","g":3,"x":3.078,"y":0.016},{"p":"c","g":3,"x":3.129,"y":0.024},{"p":"c","g":3,"x":3.18,"y":0.019},{"p":"c","g":3,"x":3.231,"y":0.03},{"p":"c","g":3,"x":3.282,"y":0.024},{"p":"c","g":3,"x":3.333,"y":0.035},{"p":"c","g":3,"x":3.384,"y":0.019},{"p":"c","g":3,"x":2.596,"y":0.009},{"p":"c","g":3,"x":2.643,"y":0.004},{"p":"c","g":3,"x":2.688,"y":0.012},{"p":"c","g":3,"x":2.739,"y":-0.001},{"p":"c","g":3,"x":2.789,"y":0.009},{"p":"c","g":3,"x":2.84,"y":0.002},{"p":"c","g":3,"x":2.891,"y":0.006},{"p":"c","g":3,"x":2.942,"y":-0.004},{"p":"c","g":3,"x":2.993,"y":0.009},{"p":"c","g":3,"x":3.044,"y":0.002},{"p":"c","g":3,"x":3.095,"y":0.006},{"p":"c","g":3,"x":3.146,"y":-0.001},{"p":"c","g":3,"x":3.197,"y":0.009},{"p":"c","g":3,"x":3.248,"y":0.002},{"p":"c","g":3,"x":3.299,"y":0.006},{"p":"c","g":3,"x":3.35,"y":0.012},{"p":"c","g":3,"x":3.394,"y":-0.002},{"p":"c","g":3,"x":2.806,"y":0.045},{"p":"c","g":3,"x":3.112,"y":0.04},{"p":"c","g":3,"x":3.265,"y":0.04},{"p":"c","g":3,"x":2.671,"y":0.047}],
"km":[
{"p":"d","g":"Ter 1","t":0,"s":1},{"p":"d","g":"Ter 1","t":477,"s":0.98},{"p":"d","g":"Ter 1","t":636,"s":0.95},{"p":"d","g":"Ter 1","t":717,"s":0.94},{"p":"d","g":"Ter 1","t":762,"s":0.93},{"p":"d","g":"Ter 1","t":807,"s":0.89},{"p":"d","g":"Ter 1","t":867,"s":0.85},{"p":"d","g":"Ter 1","t":927,"s":0.81},{"p":"d","g":"Ter 1","t":972,"s":0.78},{"p":"d","g":"Ter 1","t":1047,"s":0.76},{"p":"d","g":"Ter 1","t":1122,"s":0.74},{"p":"d","g":"Ter 1","t":1152,"s":0.69},{"p":"d","g":"Ter 1","t":1167,"s":0.675},{"p":"d","g":"Ter 1","t":1287,"s":0.645},{"p":"d","g":"Ter 1","t":1347,"s":0.64},{"p":"d","g":"Ter 1","t":1377,"s":0.63},{"p":"d","g":"Ter 1","t":1467,"s":0.61},{"p":"d","g":"Ter 1","t":1527,"s":0.594},{"p":"d","g":"Ter 1","t":1587,"s":0.572},{"p":"d","g":"Ter 1","t":1632,"s":0.54},{"p":"d","g":"Ter 1","t":1677,"s":0.517},{"p":"d","g":"Ter 1","t":1752,"s":0.5},{"p":"d","g":"Ter 1","t":1782,"s":0.484},{"p":"d","g":"Ter 1","t":1827,"s":0.462},{"p":"d","g":"Ter 1","t":1887,"s":0.44},{"p":"d","g":"Ter 1","t":1962,"s":0.427},{"p":"d","g":"Ter 1","t":2007,"s":0.418},{"p":"d","g":"Ter 1","t":2037,"s":0.385},{"p":"d","g":"Ter 1","t":2082,"s":0.352},{"p":"d","g":"Ter 1","t":2187,"s":0.34},{"p":"d","g":"Ter 1","t":2232,"s":0.324},{"p":"d","g":"Ter 1","t":2277,"s":0.313},{"p":"d","g":"Ter 1","t":2337,"s":0.29},{"p":"d","g":"Ter 1","t":2367,"s":0.275},{"p":"d","g":"Ter 1","t":2457,"s":0.264},{"p":"d","g":"Ter 1","t":2547,"s":0.244},{"p":"d","g":"Ter 1","t":2592,"s":0.208},{"p":"d","g":"Ter 1","t":2622,"s":0.18},{"p":"d","g":"Ter 1","t":2682,"s":0.159},{"p":"d","g":"Ter 1","t":2727,"s":0.142},{"p":"d","g":"Ter 1","t":2757,"s":0.126},{"p":"d","g":"Ter 1","t":2802,"s":0.109},{"p":"d","g":"Ter 1","t":2847,"s":0.087},{"p":"d","g":"Ter 1","t":2862,"s":0.056},{"p":"d","g":"Ter 1","t":2892,"s":0.056},
{"p":"d","g":"Ter 2","t":0,"s":1},{"p":"d","g":"Ter 2","t":297,"s":0.99},{"p":"d","g":"Ter 2","t":492,"s":0.97},{"p":"d","g":"Ter 2","t":537,"s":0.95},{"p":"d","g":"Ter 2","t":717,"s":0.923},{"p":"d","g":"Ter 2","t":777,"s":0.914},{"p":"d","g":"Ter 2","t":837,"s":0.897},{"p":"d","g":"Ter 2","t":882,"s":0.88},{"p":"d","g":"Ter 2","t":927,"s":0.864},{"p":"d","g":"Ter 2","t":972,"s":0.848},{"p":"d","g":"Ter 2","t":1017,"s":0.83},{"p":"d","g":"Ter 2","t":1062,"s":0.815},{"p":"d","g":"Ter 2","t":1107,"s":0.8},{"p":"d","g":"Ter 2","t":1137,"s":0.77},{"p":"d","g":"Ter 2","t":1167,"s":0.75},{"p":"d","g":"Ter 2","t":1182,"s":0.715},{"p":"d","g":"Ter 2","t":1212,"s":0.69},{"p":"d","g":"Ter 2","t":1272,"s":0.682},{"p":"d","g":"Ter 2","t":1377,"s":0.666},{"p":"d","g":"Ter 2","t":1437,"s":0.627},{"p":"d","g":"Ter 2","t":1527,"s":0.61},{"p":"d","g":"Ter 2","t":1572,"s":0.594},{"p":"d","g":"Ter 2","t":1617,"s":0.55},{"p":"d","g":"Ter 2","t":1647,"s":0.528},{"p":"d","g":"Ter 2","t":1707,"s":0.512},{"p":"d","g":"Ter 2","t":1752,"s":0.495},{"p":"d","g":"Ter 2","t":1782,"s":0.45},{"p":"d","g":"Ter 2","t":1857,"s":0.44},{"p":"d","g":"Ter 2","t":1917,"s":0.423},{"p":"d","g":"Ter 2","t":1962,"s":0.396},{"p":"d","g":"Ter 2","t":2007,"s":0.374},{"p":"d","g":"Ter 2","t":2052,"s":0.357},{"p":"d","g":"Ter 2","t":2097,"s":0.33},{"p":"d","g":"Ter 2","t":2142,"s":0.308},{"p":"d","g":"Ter 2","t":2172,"s":0.286},{"p":"d","g":"Ter 2","t":2217,"s":0.252},{"p":"d","g":"Ter 2","t":2247,"s":0.236},{"p":"d","g":"Ter 2","t":2277,"s":0.214},{"p":"d","g":"Ter 2","t":2367,"s":0.203},{"p":"d","g":"Ter 2","t":2427,"s":0.18},{"p":"d","g":"Ter 2","t":2457,"s":0.159},{"p":"d","g":"Ter 2","t":2742,"s":0.126},{"p":"d","g":"Ter 2","t":2772,"s":0.093},{"p":"d","g":"Ter 2","t":2892,"s":0.093},
{"p":"d","g":"Ter 3","t":0,"s":1},{"p":"d","g":"Ter 3","t":21,"s":0.99},{"p":"d","g":"Ter 3","t":282,"s":0.98},{"p":"d","g":"Ter 3","t":357,"s":0.96},{"p":"d","g":"Ter 3","t":522,"s":0.95},{"p":"d","g":"Ter 3","t":612,"s":0.94},{"p":"d","g":"Ter 3","t":747,"s":0.914},{"p":"d","g":"Ter 3","t":792,"s":0.88},{"p":"d","g":"Ter 3","t":837,"s":0.848},{"p":"d","g":"Ter 3","t":882,"s":0.83},{"p":"d","g":"Ter 3","t":912,"s":0.8},{"p":"d","g":"Ter 3","t":927,"s":0.77},{"p":"d","g":"Ter 3","t":957,"s":0.76},{"p":"d","g":"Ter 3","t":987,"s":0.738},{"p":"d","g":"Ter 3","t":1167,"s":0.71},{"p":"d","g":"Ter 3","t":1227,"s":0.707},{"p":"d","g":"Ter 3","t":1287,"s":0.705},{"p":"d","g":"Ter 3","t":1377,"s":0.693},{"p":"d","g":"Ter 3","t":1407,"s":0.677},{"p":"d","g":"Ter 3","t":1467,"s":0.671},{"p":"d","g":"Ter 3","t":1527,"s":0.66},{"p":"d","g":"Ter 3","t":1572,"s":0.65},{"p":"d","g":"Ter 3","t":1617,"s":0.616},{"p":"d","g":"Ter 3","t":1632,"s":0.55},{"p":"d","g":"Ter 3","t":1677,"s":0.53},{"p":"d","g":"Ter 3","t":1737,"s":0.512},{"p":"d","g":"Ter 3","t":1782,"s":0.495},{"p":"d","g":"Ter 3","t":1812,"s":0.473},{"p":"d","g":"Ter 3","t":1857,"s":0.456},{"p":"d","g":"Ter 3","t":1917,"s":0.445},{"p":"d","g":"Ter 3","t":1962,"s":0.418},{"p":"d","g":"Ter 3","t":2022,"s":0.39},{"p":"d","g":"Ter 3","t":2052,"s":0.363},{"p":"d","g":"Ter 3","t":2082,"s":0.34},{"p":"d","g":"Ter 3","t":2112,"s":0.319},{"p":"d","g":"Ter 3","t":2142,"s":0.297},{"p":"d","g":"Ter 3","t":2187,"s":0.269},{"p":"d","g":"Ter 3","t":2247,"s":0.261},{"p":"d","g":"Ter 3","t":2472,"s":0.247},{"p":"d","g":"Ter 3","t":2517,"s":0.208},{"p":"d","g":"Ter 3","t":2547,"s":0.186},{"p":"d","g":"Ter 3","t":2577,"s":0.159},{"p":"d","g":"Ter 3","t":2637,"s":0.131},{"p":"d","g":"Ter 3","t":2847,"s":0.098},{"p":"d","g":"Ter 3","t":3010,"s":0.098},
{"p":"e","g":"Ter 1","t":0,"s":1},{"p":"e","g":"Ter 1","t":498,"s":0.98},{"p":"e","g":"Ter 1","t":633,"s":0.96},{"p":"e","g":"Ter 1","t":678,"s":0.947},{"p":"e","g":"Ter 1","t":723,"s":0.93},{"p":"e","g":"Ter 1","t":768,"s":0.914},{"p":"e","g":"Ter 1","t":798,"s":0.89},{"p":"e","g":"Ter 1","t":828,"s":0.875},{"p":"e","g":"Ter 1","t":858,"s":0.86},{"p":"e","g":"Ter 1","t":879,"s":0.837},{"p":"e","g":"Ter 1","t":903,"s":0.82},{"p":"e","g":"Ter 1","t":933,"s":0.81},{"p":"e","g":"Ter 1","t":978,"s":0.8},{"p":"e","g":"Ter 1","t":1023,"s":0.787},{"p":"e","g":"Ter 1","t":1068,"s":0.776},{"p":"e","g":"Ter 1","t":1113,"s":0.76},{"p":"e","g":"Ter 1","t":1143,"s":0.738},{"p":"e","g":"Ter 1","t":1203,"s":0.71},{"p":"e","g":"Ter 1","t":1293,"s":0.705},{"p":"e","g":"Ter 1","t":1383,"s":0.693},{"p":"e","g":"Ter 1","t":1473,"s":0.677},{"p":"e","g":"Ter 1","t":1533,"s":0.666},{"p":"e","g":"Ter 1","t":1578,"s":0.644},{"p":"e","g":"Ter 1","t":1608,"s":0.6},{"p":"e","g":"Ter 1","t":1638,"s":0.566},{"p":"e","g":"Ter 1","t":1683,"s":0.545},{"p":"e","g":"Ter 1","t":1758,"s":0.54},{"p":"e","g":"Ter 1","t":1788,"s":0.523},{"p":"e","g":"Ter 1","t":1818,"s":0.5},{"p":"e","g":"Ter 1","t":1848,"s":0.484},{"p":"e","g":"Ter 1","t":1923,"s":0.473},{"p":"e","g":"Ter 1","t":1983,"s":0.45},{"p":"e","g":"Ter 1","t":2028,"s":0.44},{"p":"e","g":"Ter 1","t":2058,"s":0.418},{"p":"e","g":"Ter 1","t":2103,"s":0.396},{"p":"e","g":"Ter 1","t":2148,"s":0.374},{"p":"e","g":"Ter 1","t":2178,"s":0.357},{"p":"e","g":"Ter 1","t":2208,"s":0.33},{"p":"e","g":"Ter 1","t":2268,"s":0.313},{"p":"e","g":"Ter 1","t":2418,"s":0.297},{"p":"e","g":"Ter 1","t":2448,"s":0.275},{"p":"e","g":"Ter 1","t":2478,"s":0.241},{"p":"e","g":"Ter 1","t":2523,"s":0.214},{"p":"e","g":"Ter 1","t":2583,"s":0.18},{"p":"e","g":"Ter 1","t":2628,"s":0.148},{"p":"e","g":"Ter 1","t":2718,"s":0.109},{"p":"e","g":"Ter 1","t":3010,"s":0.109},
{"p":"e","g":"Ter 2","t":0,"s":1},{"p":"e","g":"Ter 2","t":378,"s":0.99},{"p":"e","g":"Ter 2","t":498,"s":0.98},{"p":"e","g":"Ter 2","t":663,"s":0.967},{"p":"e","g":"Ter 2","t":708,"s":0.95},{"p":"e","g":"Ter 2","t":738,"s":0.94},{"p":"e","g":"Ter 2","t":783,"s":0.93},{"p":"e","g":"Ter 2","t":828,"s":0.92},{"p":"e","g":"Ter 2","t":873,"s":0.9},{"p":"e","g":"Ter 2","t":903,"s":0.886},{"p":"e","g":"Ter 2","t":933,"s":0.87},{"p":"e","g":"Ter 2","t":963,"s":0.853},{"p":"e","g":"Ter 2","t":1008,"s":0.842},{"p":"e","g":"Ter 2","t":1068,"s":0.837},{"p":"e","g":"Ter 2","t":1113,"s":0.82},{"p":"e","g":"Ter 2","t":1143,"s":0.8},{"p":"e","g":"Ter 2","t":1173,"s":0.776},{"p":"e","g":"Ter 2","t":1218,"s":0.76},{"p":"e","g":"Ter 2","t":1263,"s":0.749},{"p":"e","g":"Ter 2","t":1308,"s":0.732},{"p":"e","g":"Ter 2","t":1383,"s":0.715},{"p":"e","g":"Ter 2","t":1443,"s":0.7},{"p":"e","g":"Ter 2","t":1488,"s":0.677},{"p":"e","g":"Ter 2","t":1533,"s":0.66},{"p":"e","g":"Ter 2","t":1578,"s":0.633},{"p":"e","g":"Ter 2","t":1623,"s":0.605},{"p":"e","g":"Ter 2","t":1653,"s":0.583},{"p":"e","g":"Ter 2","t":1698,"s":0.566},{"p":"e","g":"Ter 2","t":1743,"s":0.55},{"p":"e","g":"Ter 2","t":1773,"s":0.528},{"p":"e","g":"Ter 2","t":1803,"s":0.495},{"p":"e","g":"Ter 2","t":1833,"s":0.478},{"p":"e","g":"Ter 2","t":1878,"s":0.462},{"p":"e","g":"Ter 2","t":1908,"s":0.44},{"p":"e","g":"Ter 2","t":1953,"s":0.412},{"p":"e","g":"Ter 2","t":1998,"s":0.385},{"p":"e","g":"Ter 2","t":2028,"s":0.363},{"p":"e","g":"Ter 2","t":2058,"s":0.34},{"p":"e","g":"Ter 2","t":2088,"s":0.33},{"p":"e","g":"Ter 2","t":2148,"s":0.308},{"p":"e","g":"Ter 2","t":2193,"s":0.286},{"p":"e","g":"Ter 2","t":2268,"s":0.275},{"p":"e","g":"Ter 2","t":2328,"s":0.258},{"p":"e","g":"Ter 2","t":2493,"s":0.253},{"p":"e","g":"Ter 2","t":2538,"s":0.236},{"p":"e","g":"Ter 2","t":2583,"s":0.214},{"p":"e","g":"Ter 2","t":2643,"s":0.192},{"p":"e","g":"Ter 2","t":2793,"s":0.153},{"p":"e","g":"Ter 2","t":2838,"s":0.087},{"p":"e","g":"Ter 2","t":2883,"s":0.087},
{"p":"e","g":"Ter 3","t":0,"s":1},{"p":"e","g":"Ter 3","t":24,"s":0.99},{"p":"e","g":"Ter 3","t":273,"s":0.98},{"p":"e","g":"Ter 3","t":318,"s":0.96},{"p":"e","g":"Ter 3","t":348,"s":0.94},{"p":"e","g":"Ter 3","t":438,"s":0.927},{"p":"e","g":"Ter 3","t":483,"s":0.92},{"p":"e","g":"Ter 3","t":543,"s":0.915},{"p":"e","g":"Ter 3","t":678,"s":0.897},{"p":"e","g":"Ter 3","t":723,"s":0.88},{"p":"e","g":"Ter 3","t":753,"s":0.853},{"p":"e","g":"Ter 3","t":798,"s":0.83},{"p":"e","g":"Ter 3","t":843,"s":0.81},{"p":"e","g":"Ter 3","t":888,"s":0.79},{"p":"e","g":"Ter 3","t":933,"s":0.77},{"p":"e","g":"Ter 3","t":963,"s":0.738},{"p":"e","g":"Ter 3","t":1008,"s":0.715},{"p":"e","g":"Ter 3","t":1053,"s":0.705},{"p":"e","g":"Ter 3","t":1113,"s":0.693},{"p":"e","g":"Ter 3","t":1143,"s":0.666},{"p":"e","g":"Ter 3","t":1188,"s":0.638},{"p":"e","g":"Ter 3","t":1233,"s":0.616},{"p":"e","g":"Ter 3","t":1293,"s":0.61},{"p":"e","g":"Ter 3","t":1353,"s":0.6},{"p":"e","g":"Ter 3","t":1383,"s":0.566},{"p":"e","g":"Ter 3","t":1443,"s":0.55},{"p":"e","g":"Ter 3","t":1503,"s":0.545},{"p":"e","g":"Ter 3","t":1548,"s":0.523},{"p":"e","g":"Ter 3","t":1578,"s":0.506},{"p":"e","g":"Ter 3","t":1608,"s":0.484},{"p":"e","g":"Ter 3","t":1623,"s":0.462},{"p":"e","g":"Ter 3","t":1653,"s":0.45},{"p":"e","g":"Ter 3","t":1698,"s":0.44},{"p":"e","g":"Ter 3","t":1728,"s":0.423},{"p":"e","g":"Ter 3","t":1758,"s":0.4},{"p":"e","g":"Ter 3","t":1788,"s":0.374},{"p":"e","g":"Ter 3","t":1833,"s":0.368},{"p":"e","g":"Ter 3","t":1893,"s":0.357},{"p":"e","g":"Ter 3","t":1938,"s":0.34},{"p":"e","g":"Ter 3","t":1983,"s":0.313},{"p":"e","g":"Ter 3","t":2028,"s":0.302},{"p":"e","g":"Ter 3","t":2058,"s":0.269},{"p":"e","g":"Ter 3","t":2088,"s":0.241},{"p":"e","g":"Ter 3","t":2118,"s":0.225},{"p":"e","g":"Ter 3","t":2193,"s":0.214},{"p":"e","g":"Ter 3","t":2238,"s":0.197},{"p":"e","g":"Ter 3","t":2283,"s":0.18},{"p":"e","g":"Ter 3","t":2328,"s":0.17},{"p":"e","g":"Ter 3","t":2358,"s":0.153},{"p":"e","g":"Ter 3","t":2493,"s":0.115},{"p":"e","g":"Ter 3","t":2583,"s":0.076},{"p":"e","g":"Ter 3","t":2898,"s":0.076},
{"p":"f","g":"Ter 1","t":0,"s":1},{"p":"f","g":"Ter 1","t":27,"s":0.99},{"p":"f","g":"Ter 1","t":272,"s":0.98},{"p":"f","g":"Ter 1","t":332,"s":0.97},{"p":"f","g":"Ter 1","t":377,"s":0.956},{"p":"f","g":"Ter 1","t":452,"s":0.947},{"p":"f","g":"Ter 1","t":497,"s":0.93},{"p":"f","g":"Ter 1","t":527,"s":0.92},{"p":"f","g":"Ter 1","t":557,"s":0.9},{"p":"f","g":"Ter 1","t":617,"s":0.897},{"p":"f","g":"Ter 1","t":647,"s":0.88},{"p":"f","g":"Ter 1","t":692,"s":0.865},{"p":"f","g":"Ter 1","t":722,"s":0.842},{"p":"f","g":"Ter 1","t":752,"s":0.82},{"p":"f","g":"Ter 1","t":782,"s":0.793},{"p":"f","g":"Ter 1","t":827,"s":0.787},{"p":"f","g":"Ter 1","t":872,"s":0.78},{"p":"f","g":"Ter 1","t":902,"s":0.749},{"p":"f","g":"Ter 1","t":932,"s":0.72},{"p":"f","g":"Ter 1","t":962,"s":0.693},{"p":"f","g":"Ter 1","t":1007,"s":0.671},{"p":"f","g":"Ter 1","t":1052,"s":0.66},{"p":"f","g":"Ter 1","t":1097,"s":0.644},{"p":"f","g":"Ter 1","t":1127,"s":0.616},{"p":"f","g":"Ter 1","t":1157,"s":0.594},{"p":"f","g":"Ter 1","t":1187,"s":0.572},{"p":"f","g":"Ter 1","t":1217,"s":0.55},{"p":"f","g":"Ter 1","t":1337,"s":0.54},{"p":"f","g":"Ter 1","t":1367,"s":0.517},{"p":"f","g":"Ter 1","t":1397,"s":0.5},{"p":"f","g":"Ter 1","t":1427,"s":0.478},{"p":"f","g":"Ter 1","t":1487,"s":0.462},{"p":"f","g":"Ter 1","t":1532,"s":0.45},{"p":"f","g":"Ter 1","t":1577,"s":0.44},{"p":"f","g":"Ter 1","t":1607,"s":0.396},{"p":"f","g":"Ter 1","t":1637,"s":0.374},{"p":"f","g":"Ter 1","t":1697,"s":0.363},{"p":"f","g":"Ter 1","t":1742,"s":0.352},{"p":"f","g":"Ter 1","t":1772,"s":0.319},{"p":"f","g":"Ter 1","t":1802,"s":0.297},{"p":"f","g":"Ter 1","t":1862,"s":0.286},{"p":"f","g":"Ter 1","t":1907,"s":0.269},{"p":"f","g":"Ter 1","t":1952,"s":0.241},{"p":"f","g":"Ter 1","t":1997,"s":0.225},{"p":"f","g":"Ter 1","t":2042,"s":0.208},{"p":"f","g":"Ter 1","t":2072,"s":0.175},{"p":"f","g":"Ter 1","t":2102,"s":0.153},{"p":"f","g":"Ter 1","t":2132,"s":0.148},{"p":"f","g":"Ter 1","t":2237,"s":0.126},{"p":"f","g":"Ter 1","t":2632,"s":0},
{"p":"f","g":"Ter 2","t":0,"s":1},{"p":"f","g":"Ter 2","t":647,"s":0.98},{"p":"f","g":"Ter 2","t":721,"s":0.963},{"p":"f","g":"Ter 2","t":766,"s":0.953},{"p":"f","g":"Ter 2","t":827,"s":0.94},{"p":"f","g":"Ter 2","t":916,"s":0.92},{"p":"f","g":"Ter 2","t":946,"s":0.9},{"p":"f","g":"Ter 2","t":961,"s":0.89},{"p":"f","g":"Ter 2","t":1141,"s":0.86},{"p":"f","g":"Ter 2","t":1156,"s":0.837},{"p":"f","g":"Ter 2","t":1216,"s":0.83},{"p":"f","g":"Ter 2","t":1261,"s":0.82},{"p":"f","g":"Ter 2","t":1306,"s":0.815},{"p":"f","g":"Ter 2","t":1351,"s":0.8},{"p":"f","g":"Ter 2","t":1381,"s":0.787},{"p":"f","g":"Ter 2","t":1471,"s":0.77},{"p":"f","g":"Ter 2","t":1501,"s":0.754},{"p":"f","g":"Ter 2","t":1546,"s":0.743},{"p":"f","g":"Ter 2","t":1591,"s":0.727},{"p":"f","g":"Ter 2","t":1621,"s":0.7},{"p":"f","g":"Ter 2","t":1636,"s":0.671},{"p":"f","g":"Ter 2","t":1696,"s":0.666},{"p":"f","g":"Ter 2","t":1741,"s":0.655},{"p":"f","g":"Ter 2","t":1771,"s":0.638},{"p":"f","g":"Ter 2","t":1801,"s":0.611},{"p":"f","g":"Ter 2","t":1846,"s":0.589},{"p":"f","g":"Ter 2","t":1906,"s":0.578},{"p":"f","g":"Ter 2","t":1951,"s":0.556},{"p":"f","g":"Ter 2","t":1981,"s":0.534},{"p":"f","g":"Ter 2","t":2011,"s":0.517},{"p":"f","g":"Ter 2","t":2041,"s":0.5},{"p":"f","g":"Ter 2","t":2071,"s":0.473},{"p":"f","g":"Ter 2","t":2190,"s":0.418},{"p":"f","g":"Ter 2","t":2237,"s":0.4},{"p":"f","g":"Ter 2","t":2282,"s":0.38},{"p":"f","g":"Ter 2","t":2312,"s":0.363},{"p":"f","g":"Ter 2","t":2417,"s":0.357},{"p":"f","g":"Ter 2","t":2447,"s":0.34},{"p":"f","g":"Ter 2","t":2477,"s":0.319},{"p":"f","g":"Ter 2","t":2507,"s":0.297},{"p":"f","g":"Ter 2","t":2537,"s":0.275},{"p":"f","g":"Ter 2","t":2567,"s":0.258},{"p":"f","g":"Ter 2","t":2597,"s":0.214},{"p":"f","g":"Ter 2","t":2790,"s":0.18},{"p":"f","g":"Ter 2","t":2820,"s":0.153},{"p":"f","g":"Ter 2","t":2910,"s":0.153},
{"p":"f","g":"Ter 3","t":0,"s":1},{"p":"f","g":"Ter 3","t":302,"s":0.99},{"p":"f","g":"Ter 3","t":497,"s":0.98},{"p":"f","g":"Ter 3","t":647,"s":0.963},{"p":"f","g":"Ter 3","t":692,"s":0.947},{"p":"f","g":"Ter 3","t":752,"s":0.936},{"p":"f","g":"Ter 3","t":797,"s":0.92},{"p":"f","g":"Ter 3","t":841,"s":0.88},{"p":"f","g":"Ter 3","t":856,"s":0.86},{"p":"f","g":"Ter 3","t":901,"s":0.842},{"p":"f","g":"Ter 3","t":931,"s":0.81},{"p":"f","g":"Ter 3","t":961,"s":0.804},{"p":"f","g":"Ter 3","t":991,"s":0.787},{"p":"f","g":"Ter 3","t":1051,"s":0.776},{"p":"f","g":"Ter 3","t":1066,"s":0.76},{"p":"f","g":"Ter 3","t":1126,"s":0.743},{"p":"f","g":"Ter 3","t":1171,"s":0.727},{"p":"f","g":"Ter 3","t":1201,"s":0.705},{"p":"f","g":"Ter 3","t":1276,"s":0.693},{"p":"f","g":"Ter 3","t":1321,"s":0.682},{"p":"f","g":"Ter 3","t":1396,"s":0.671},{"p":"f","g":"Ter 3","t":1456,"s":0.66},{"p":"f","g":"Ter 3","t":1515,"s":0.638},{"p":"f","g":"Ter 3","t":1545,"s":0.616},{"p":"f","g":"Ter 3","t":1590,"s":0.589},{"p":"f","g":"Ter 3","t":1620,"s":0.556},{"p":"f","g":"Ter 3","t":1650,"s":0.534},{"p":"f","g":"Ter 3","t":1725,"s":0.517},{"p":"f","g":"Ter 3","t":1785,"s":0.5},{"p":"f","g":"Ter 3","t":1815,"s":0.484},{"p":"f","g":"Ter 3","t":1860,"s":0.467},{"p":"f","g":"Ter 3","t":1905,"s":0.45},{"p":"f","g":"Ter 3","t":1950,"s":0.43},{"p":"f","g":"Ter 3","t":1995,"s":0.407},{"p":"f","g":"Ter 3","t":2040,"s":0.374},{"p":"f","g":"Ter 3","t":2085,"s":0.34},{"p":"f","g":"Ter 3","t":2145,"s":0.324},{"p":"f","g":"Ter 3","t":2190,"s":0.297},{"p":"f","g":"Ter 3","t":2235,"s":0.275},{"p":"f","g":"Ter 3","t":2295,"s":0.269},{"p":"f","g":"Ter 3","t":2325,"s":0.253},{"p":"f","g":"Ter 3","t":2355,"s":0.23},{"p":"f","g":"Ter 3","t":2445,"s":0.225},{"p":"f","g":"Ter 3","t":2520,"s":0.208},{"p":"f","g":"Ter 3","t":2565,"s":0.192},{"p":"f","g":"Ter 3","t":2580,"s":0.17},{"p":"f","g":"Ter 3","t":2730,"s":0.148},{"p":"f","g":"Ter 3","t":2790,"s":0.109},{"p":"f","g":"Ter 3","t":2835,"s":0.054},{"p":"f","g":"Ter 3","t":3012,"s":0.054}],
"cens":[
{"p":"d","g":"Ter 1","t":1992,"s":0.418},{"p":"d","g":"Ter 1","t":2202,"s":0.34},{"p":"d","g":"Ter 1","t":2232,"s":0.324},{"p":"d","g":"Ter 1","t":2292,"s":0.313},{"p":"d","g":"Ter 1","t":2320,"s":0.313},{"p":"d","g":"Ter 1","t":2345,"s":0.29},{"p":"d","g":"Ter 1","t":2395,"s":0.264},{"p":"d","g":"Ter 1","t":2420,"s":0.264},{"p":"d","g":"Ter 1","t":2445,"s":0.264},{"p":"d","g":"Ter 1","t":2560,"s":0.244},{"p":"d","g":"Ter 1","t":2700,"s":0.159},{"p":"d","g":"Ter 1","t":2775,"s":0.126},{"p":"d","g":"Ter 1","t":2877,"s":0.056},
{"p":"d","g":"Ter 2","t":1970,"s":0.396},{"p":"d","g":"Ter 2","t":2070,"s":0.357},{"p":"d","g":"Ter 2","t":2110,"s":0.33},{"p":"d","g":"Ter 2","t":2255,"s":0.236},{"p":"d","g":"Ter 2","t":2380,"s":0.203},{"p":"d","g":"Ter 2","t":2405,"s":0.203},{"p":"d","g":"Ter 2","t":2480,"s":0.159},{"p":"d","g":"Ter 2","t":2520,"s":0.159},{"p":"d","g":"Ter 2","t":2550,"s":0.159},{"p":"d","g":"Ter 2","t":2730,"s":0.159},{"p":"d","g":"Ter 2","t":2800,"s":0.093},{"p":"d","g":"Ter 2","t":2880,"s":0.093},
{"p":"d","g":"Ter 3","t":2067,"s":0.363},{"p":"d","g":"Ter 3","t":2100,"s":0.34},{"p":"d","g":"Ter 3","t":2280,"s":0.261},{"p":"d","g":"Ter 3","t":2310,"s":0.261},{"p":"d","g":"Ter 3","t":2340,"s":0.261},{"p":"d","g":"Ter 3","t":2400,"s":0.261},{"p":"d","g":"Ter 3","t":2607,"s":0.159},{"p":"d","g":"Ter 3","t":2907,"s":0.098},{"p":"d","g":"Ter 3","t":3010,"s":0.098},
{"p":"e","g":"Ter 1","t":1990,"s":0.45},{"p":"e","g":"Ter 1","t":2035,"s":0.44},{"p":"e","g":"Ter 1","t":2065,"s":0.418},{"p":"e","g":"Ter 1","t":2090,"s":0.418},{"p":"e","g":"Ter 1","t":2155,"s":0.374},{"p":"e","g":"Ter 1","t":2185,"s":0.357},{"p":"e","g":"Ter 1","t":2283,"s":0.313},{"p":"e","g":"Ter 1","t":2313,"s":0.313},{"p":"e","g":"Ter 1","t":2343,"s":0.313},{"p":"e","g":"Ter 1","t":2403,"s":0.313},{"p":"e","g":"Ter 1","t":2433,"s":0.297},{"p":"e","g":"Ter 1","t":2540,"s":0.214},{"p":"e","g":"Ter 1","t":2600,"s":0.18},{"p":"e","g":"Ter 1","t":2883,"s":0.109},{"p":"e","g":"Ter 1","t":3010,"s":0.109},
{"p":"e","g":"Ter 2","t":2095,"s":0.33},{"p":"e","g":"Ter 2","t":2130,"s":0.33},{"p":"e","g":"Ter 2","t":2283,"s":0.275},{"p":"e","g":"Ter 2","t":2373,"s":0.258},{"p":"e","g":"Ter 2","t":2418,"s":0.258},{"p":"e","g":"Ter 2","t":2553,"s":0.236},{"p":"e","g":"Ter 2","t":2613,"s":0.214},{"p":"e","g":"Ter 2","t":2673,"s":0.192},{"p":"e","g":"Ter 2","t":2763,"s":0.192},{"p":"e","g":"Ter 2","t":2853,"s":0.087},{"p":"e","g":"Ter 2","t":2883,"s":0.087},
{"p":"e","g":"Ter 3","t":1665,"s":0.45},{"p":"e","g":"Ter 3","t":1810,"s":0.374},{"p":"e","g":"Ter 3","t":1995,"s":0.313},{"p":"e","g":"Ter 3","t":2035,"s":0.302},{"p":"e","g":"Ter 3","t":2100,"s":0.241},{"p":"e","g":"Ter 3","t":2125,"s":0.225},{"p":"e","g":"Ter 3","t":2245,"s":0.197},{"p":"e","g":"Ter 3","t":2300,"s":0.18},{"p":"e","g":"Ter 3","t":2320,"s":0.17},{"p":"e","g":"Ter 3","t":2380,"s":0.153},{"p":"e","g":"Ter 3","t":2433,"s":0.153},{"p":"e","g":"Ter 3","t":2478,"s":0.153},{"p":"e","g":"Ter 3","t":2733,"s":0.076},{"p":"e","g":"Ter 3","t":2898,"s":0.076},
{"p":"f","g":"Ter 1","t":2080,"s":0.175},{"p":"f","g":"Ter 1","t":2110,"s":0.153},{"p":"f","g":"Ter 1","t":2140,"s":0.148},{"p":"f","g":"Ter 1","t":2267,"s":0.126},{"p":"f","g":"Ter 1","t":2297,"s":0.126},{"p":"f","g":"Ter 1","t":2327,"s":0.126},{"p":"f","g":"Ter 1","t":2357,"s":0.126},{"p":"f","g":"Ter 1","t":2537,"s":0.126},{"p":"f","g":"Ter 1","t":2597,"s":0.126},
{"p":"f","g":"Ter 2","t":1990,"s":0.534},{"p":"f","g":"Ter 2","t":2026,"s":0.517},{"p":"f","g":"Ter 2","t":2086,"s":0.473},{"p":"f","g":"Ter 2","t":2116,"s":0.473},{"p":"f","g":"Ter 2","t":2146,"s":0.473},{"p":"f","g":"Ter 2","t":2200,"s":0.418},{"p":"f","g":"Ter 2","t":2267,"s":0.4},{"p":"f","g":"Ter 2","t":2297,"s":0.38},{"p":"f","g":"Ter 2","t":2342,"s":0.363},{"p":"f","g":"Ter 2","t":2372,"s":0.363},{"p":"f","g":"Ter 2","t":2402,"s":0.363},{"p":"f","g":"Ter 2","t":2432,"s":0.357},{"p":"f","g":"Ter 2","t":2485,"s":0.319},{"p":"f","g":"Ter 2","t":2545,"s":0.275},{"p":"f","g":"Ter 2","t":2575,"s":0.258},{"p":"f","g":"Ter 2","t":2657,"s":0.214},{"p":"f","g":"Ter 2","t":2702,"s":0.214},{"p":"f","g":"Ter 2","t":2747,"s":0.214},{"p":"f","g":"Ter 2","t":2852,"s":0.153},{"p":"f","g":"Ter 2","t":2882,"s":0.153},{"p":"f","g":"Ter 2","t":2897,"s":0.153},
{"p":"f","g":"Ter 3","t":1630,"s":0.556},{"p":"f","g":"Ter 3","t":1660,"s":0.534},{"p":"f","g":"Ter 3","t":1960,"s":0.43},{"p":"f","g":"Ter 3","t":1980,"s":0.43},{"p":"f","g":"Ter 3","t":2005,"s":0.407},{"p":"f","g":"Ter 3","t":2025,"s":0.407},{"p":"f","g":"Ter 3","t":2050,"s":0.374},{"p":"f","g":"Ter 3","t":2095,"s":0.34},{"p":"f","g":"Ter 3","t":2115,"s":0.34},{"p":"f","g":"Ter 3","t":2305,"s":0.269},{"p":"f","g":"Ter 3","t":2365,"s":0.23},{"p":"f","g":"Ter 3","t":2400,"s":0.23},{"p":"f","g":"Ter 3","t":2745,"s":0.148},{"p":"f","g":"Ter 3","t":3005,"s":0.054}],
"medh":[{"p":"d","t0":0,"t":1770,"s":0.5},{"p":"e","t0":0,"t":1839,"s":0.5},{"p":"f","t0":0,"t":2051,"s":0.5}],
"medv":[{"p":"d","t":1750,"s":0.5,"s0":0},{"p":"d","t":1768,"s":0.5,"s0":0},{"p":"e","t":1602,"s":0.5,"s0":0},{"p":"e","t":1794,"s":0.5,"s0":0},{"p":"e","t":1839,"s":0.5,"s0":0},{"p":"f","t":1404,"s":0.5,"s0":0},{"p":"f","t":1790,"s":0.5,"s0":0},{"p":"f","t":2051,"s":0.5,"s0":0}],
"pv":[{"p":"d","label":"p = 0.88","t":57,"s":0.197},{"p":"e","label":"p = 0.041","t":57,"s":0.197},{"p":"f","label":"p < 0.0001","t":63,"s":0.197}]
},
"spacing":16,
"resolve":{"scale":{"color":"independent","x":"independent","y":"independent"},"legend":{"color":"independent"}},
"vconcat":[
{"hconcat":[
{"width":39,"height":343,"data":{"values":[{"k":0}]},"mark":{"type":"point","opacity":0},"encoding":{"x":{"value":1},"y":{"value":1}}},
{"width":323,"height":343,"view":{"stroke":"#B3B3B3","strokeWidth":1},
"title":{"text":"a)","dx":-95.9,"dy":38,"offset":0,"baseline":"alphabetic"},
"layer":[
{"data":{"name":"box"},"transform":[{"filter":"datum.p=='a'"}],"mark":{"type":"rule","strokeWidth":1,"opacity":0.85},
"encoding":{"x":{"field":"g","type":"quantitative","title":"Mean RLTL tertile","scale":{"domain":[0.4,3.6],"nice":false,"zero":false},"axis":{"values":[1,2,3],"format":"d","grid":true,"gridColor":"#DEDEDE","domain":false,"tickColor":"#B3B3B3","tickSize":4,"labelFontSize":19,"labelColor":"#4D4D4D","labelPadding":5,"labelFlush":false,"titleFontSize":23.5,"titlePadding":4}},
"y":{"field":"lo","type":"quantitative","title":"Mean RLTL","scale":{"domain":[-0.367,0.463],"nice":false,"zero":false},"axis":{"values":[-0.3,-0.2,-0.1,0,0.1,0.2,0.3,0.4],"format":".1f","labelExpr":"indexof([-0.2,0,0.2,0.4],datum.value)>=0 ? datum.label : ''","labelOverlap":false,"grid":true,"gridColor":{"condition":{"test":"indexof([-0.3,-0.1,0.1,0.3],datum.value)>=0","value":"#EFEFEF"},"value":"#DEDEDE"},"domain":false,"tickColor":"#B3B3B3","tickOpacity":{"condition":{"test":"indexof([-0.3,-0.1,0.1,0.3],datum.value)>=0","value":0},"value":1},"tickSize":4,"labelFontSize":19,"labelColor":"#4D4D4D","labelPadding":5,"titleFontSize":23.5,"titlePadding":7}},
"y2":{"field":"q1"},
"color":{"field":"g","type":"nominal","scale":{"domain":[1,2,3],"range":["#F0977A","#8A96C8","#86CEB6"]},"legend":null}}},
{"data":{"name":"box"},"transform":[{"filter":"datum.p=='a'"}],"mark":{"type":"rule","strokeWidth":1,"opacity":0.85},
"encoding":{"x":{"field":"g","type":"quantitative","title":"Mean RLTL tertile","scale":{"domain":[0.4,3.6],"nice":false,"zero":false}},"y":{"field":"q3","type":"quantitative","title":"Mean RLTL","scale":{"domain":[-0.367,0.463],"nice":false,"zero":false}},"y2":{"field":"hi"},"color":{"field":"g","type":"nominal","legend":null}}},
{"data":{"name":"box"},"transform":[{"filter":"datum.p=='a'"}],"mark":{"type":"bar","size":76,"filled":false,"strokeWidth":1,"opacity":0.85},
"encoding":{"x":{"field":"g","type":"quantitative","title":"Mean RLTL tertile","scale":{"domain":[0.4,3.6],"nice":false,"zero":false}},"y":{"field":"q1","type":"quantitative","title":"Mean RLTL","scale":{"domain":[-0.367,0.463],"nice":false,"zero":false}},"y2":{"field":"q3"},"color":{"field":"g","type":"nominal","legend":null}}},
{"data":{"name":"box"},"transform":[{"filter":"datum.p=='a'"}],"mark":{"type":"tick","orient":"horizontal","size":76,"thickness":1,"opacity":0.85},
"encoding":{"x":{"field":"g","type":"quantitative","title":"Mean RLTL tertile","scale":{"domain":[0.4,3.6],"nice":false,"zero":false}},"y":{"field":"med","type":"quantitative","title":"Mean RLTL","scale":{"domain":[-0.367,0.463],"nice":false,"zero":false}},"color":{"field":"g","type":"nominal","legend":null}}},
{"data":{"name":"pts"},"transform":[{"filter":"datum.p=='a'"}],"mark":{"type":"circle","size":34,"opacity":0.8},
"encoding":{"x":{"field":"x","type":"quantitative","title":"Mean RLTL tertile","scale":{"domain":[0.4,3.6],"nice":false,"zero":false}},"y":{"field":"y","type":"quantitative","title":"Mean RLTL","scale":{"domain":[-0.367,0.463],"nice":false,"zero":false}},"color":{"field":"g","type":"nominal","legend":null}}}
]},
{"width":88.3,"height":343,"data":{"values":[{"k":0}]},"mark":{"type":"point","opacity":0},"encoding":{"x":{"value":1},"y":{"value":1}}},
{"width":335.4,"height":343,"view":{"stroke":"#B3B3B3","strokeWidth":1},
"title":{"text":"b)","dx":-62,"dy":38,"offset":0,"baseline":"alphabetic"},
"layer":[
{"data":{"name":"box"},"transform":[{"filter":"datum.p=='b'"}],"mark":{"type":"rule","strokeWidth":1,"opacity":0.85},
"encoding":{"x":{"field":"g","type":"quantitative","title":"Mean absolute RLTL change tertile","scale":{"domain":[0.4,3.6],"nice":false,"zero":false},"axis":{"values":[1,2,3],"format":"d","grid":true,"gridColor":"#DEDEDE","domain":false,"tickColor":"#B3B3B3","tickSize":4,"labelFontSize":19,"labelColor":"#4D4D4D","labelPadding":5,"labelFlush":false,"titleFontSize":23.5,"titlePadding":4}},
"y":{"field":"lo","type":"quantitative","title":"Mean absolute RLTL change","scale":{"domain":[-0.028,0.673],"nice":false,"zero":false},"axis":{"values":[0,0.1,0.2,0.3,0.4,0.5,0.6],"format":".1f","labelExpr":"indexof([0,0.2,0.4,0.6],datum.value)>=0 ? datum.label : ''","labelOverlap":false,"grid":true,"gridColor":{"condition":{"test":"indexof([0.1,0.3,0.5],datum.value)>=0","value":"#EFEFEF"},"value":"#DEDEDE"},"domain":false,"tickColor":"#B3B3B3","tickOpacity":{"condition":{"test":"indexof([0.1,0.3,0.5],datum.value)>=0","value":0},"value":1},"tickSize":4,"labelFontSize":19,"labelColor":"#4D4D4D","labelPadding":5,"titleFontSize":23.5,"titlePadding":7}},
"y2":{"field":"q1"},
"color":{"field":"g","type":"nominal","scale":{"domain":[1,2,3],"range":["#55863A","#70C8EF","#4E1E4A"]},"legend":null}}},
{"data":{"name":"box"},"transform":[{"filter":"datum.p=='b'"}],"mark":{"type":"rule","strokeWidth":1,"opacity":0.85},
"encoding":{"x":{"field":"g","type":"quantitative","title":"Mean absolute RLTL change tertile","scale":{"domain":[0.4,3.6],"nice":false,"zero":false}},"y":{"field":"q3","type":"quantitative","title":"Mean absolute RLTL change","scale":{"domain":[-0.028,0.673],"nice":false,"zero":false}},"y2":{"field":"hi"},"color":{"field":"g","type":"nominal","legend":null}}},
{"data":{"name":"box"},"transform":[{"filter":"datum.p=='b'"}],"mark":{"type":"bar","size":78,"filled":false,"strokeWidth":1,"opacity":0.85},
"encoding":{"x":{"field":"g","type":"quantitative","title":"Mean absolute RLTL change tertile","scale":{"domain":[0.4,3.6],"nice":false,"zero":false}},"y":{"field":"q1","type":"quantitative","title":"Mean absolute RLTL change","scale":{"domain":[-0.028,0.673],"nice":false,"zero":false}},"y2":{"field":"q3"},"color":{"field":"g","type":"nominal","legend":null}}},
{"data":{"name":"box"},"transform":[{"filter":"datum.p=='b'"}],"mark":{"type":"tick","orient":"horizontal","size":78,"thickness":1,"opacity":0.85},
"encoding":{"x":{"field":"g","type":"quantitative","title":"Mean absolute RLTL change tertile","scale":{"domain":[0.4,3.6],"nice":false,"zero":false}},"y":{"field":"med","type":"quantitative","title":"Mean absolute RLTL change","scale":{"domain":[-0.028,0.673],"nice":false,"zero":false}},"color":{"field":"g","type":"nominal","legend":null}}},
{"data":{"name":"pts"},"transform":[{"filter":"datum.p=='b'"}],"mark":{"type":"circle","size":34,"opacity":0.8},
"encoding":{"x":{"field":"x","type":"quantitative","title":"Mean absolute RLTL change tertile","scale":{"domain":[0.4,3.6],"nice":false,"zero":false}},"y":{"field":"y","type":"quantitative","title":"Mean absolute RLTL change","scale":{"domain":[-0.028,0.673],"nice":false,"zero":false}},"color":{"field":"g","type":"nominal","legend":null}}}
]},
{"width":108.3,"height":343,"data":{"values":[{"k":0}]},"mark":{"type":"point","opacity":0},"encoding":{"x":{"value":1},"y":{"value":1}}},
{"width":313.3,"height":343,"view":{"stroke":"#B3B3B3","strokeWidth":1},
"title":{"text":"c)","dx":-79,"dy":38,"offset":0,"baseline":"alphabetic"},
"layer":[
{"data":{"name":"box"},"transform":[{"filter":"datum.p=='c'"}],"mark":{"type":"rule","strokeWidth":1,"opacity":0.85},
"encoding":{"x":{"field":"g","type":"quantitative","title":"Mean RLTL change tertile","scale":{"domain":[0.4,3.6],"nice":false,"zero":false},"axis":{"values":[1,2,3],"format":"d","grid":true,"gridColor":"#DEDEDE","domain":false,"tickColor":"#B3B3B3","tickSize":4,"labelFontSize":19,"labelColor":"#4D4D4D","labelPadding":5,"labelFlush":false,"titleFontSize":23.5,"titlePadding":4}},
"y":{"field":"lo","type":"quantitative","title":"Mean RLTL change","scale":{"domain":[-0.686,0.363],"nice":false,"zero":false},"axis":{"values":[-0.625,-0.5,-0.375,-0.25,-0.125,0,0.125,0.25],"format":".2f","labelExpr":"indexof([-0.5,-0.25,0,0.25],datum.value)>=0 ? datum.label : ''","labelOverlap":false,"grid":true,"gridColor":{"condition":{"test":"indexof([-0.625,-0.375,-0.125,0.125],datum.value)>=0","value":"#EFEFEF"},"value":"#DEDEDE"},"domain":false,"tickColor":"#B3B3B3","tickOpacity":{"condition":{"test":"indexof([-0.625,-0.375,-0.125,0.125],datum.value)>=0","value":0},"value":1},"tickSize":4,"labelFontSize":19,"labelColor":"#4D4D4D","labelPadding":5,"titleFontSize":23.5,"titlePadding":10}},
"y2":{"field":"q1"},
"color":{"field":"g","type":"nominal","scale":{"domain":[1,2,3],"range":["#B9A58F","#FF4E1F","#72D4F6"]},"legend":null}}},
{"data":{"name":"box"},"transform":[{"filter":"datum.p=='c'"}],"mark":{"type":"rule","strokeWidth":1,"opacity":0.85},
"encoding":{"x":{"field":"g","type":"quantitative","title":"Mean RLTL change tertile","scale":{"domain":[0.4,3.6],"nice":false,"zero":false}},"y":{"field":"q3","type":"quantitative","title":"Mean RLTL change","scale":{"domain":[-0.686,0.363],"nice":false,"zero":false}},"y2":{"field":"hi"},"color":{"field":"g","type":"nominal","legend":null}}},
{"data":{"name":"box"},"transform":[{"filter":"datum.p=='c'"}],"mark":{"type":"bar","size":73,"filled":false,"strokeWidth":1,"opacity":0.85},
"encoding":{"x":{"field":"g","type":"quantitative","title":"Mean RLTL change tertile","scale":{"domain":[0.4,3.6],"nice":false,"zero":false}},"y":{"field":"q1","type":"quantitative","title":"Mean RLTL change","scale":{"domain":[-0.686,0.363],"nice":false,"zero":false}},"y2":{"field":"q3"},"color":{"field":"g","type":"nominal","legend":null}}},
{"data":{"name":"box"},"transform":[{"filter":"datum.p=='c'"}],"mark":{"type":"tick","orient":"horizontal","size":73,"thickness":1,"opacity":0.85},
"encoding":{"x":{"field":"g","type":"quantitative","title":"Mean RLTL change tertile","scale":{"domain":[0.4,3.6],"nice":false,"zero":false}},"y":{"field":"med","type":"quantitative","title":"Mean RLTL change","scale":{"domain":[-0.686,0.363],"nice":false,"zero":false}},"color":{"field":"g","type":"nominal","legend":null}}},
{"data":{"name":"pts"},"transform":[{"filter":"datum.p=='c'"}],"mark":{"type":"circle","size":34,"opacity":0.8},
"encoding":{"x":{"field":"x","type":"quantitative","title":"Mean RLTL change tertile","scale":{"domain":[0.4,3.6],"nice":false,"zero":false}},"y":{"field":"y","type":"quantitative","title":"Mean RLTL change","scale":{"domain":[-0.686,0.363],"nice":false,"zero":false}},"color":{"field":"g","type":"nominal","legend":null}}}
]}
],"spacing":0,"bounds":"flush","resolve":{"scale":{"color":"independent","x":"independent","y":"independent"},"legend":{"color":"independent"}}},
{"hconcat":[
{"width":367,"height":331.7,
"title":{"text":"d)","dx":-54,"dy":46,"offset":0,"baseline":"alphabetic"},
"layer":[
{"data":{"name":"km"},"transform":[{"filter":"datum.p=='d'"}],"mark":{"type":"line","interpolate":"step-after","strokeWidth":2},
"encoding":{"x":{"field":"t","type":"quantitative","title":"Time in days","scale":{"domain":[-150,3150],"nice":false,"zero":false},"axis":{"values":[0,1000,2000,3000],"format":"d","grid":false,"domainColor":"#000","domainWidth":1.2,"tickColor":"#000","tickSize":4,"labelFontSize":10.5,"labelColor":"#000","labelPadding":1,"labelFlush":false,"titleFontSize":23.5,"titlePadding":5}},
"y":{"field":"s","type":"quantitative","title":"Survival probability","scale":{"domain":[-0.05,1.05],"nice":false,"zero":false},"axis":{"values":[0,0.25,0.5,0.75,1],"format":".2f","grid":false,"domainColor":"#000","domainWidth":1.2,"tickColor":"#000","tickSize":4,"labelFontSize":11,"labelColor":"#000","labelPadding":2,"titleFontSize":23.5,"titlePadding":6}},
"color":{"field":"g","type":"nominal","scale":{"domain":["Ter 1","Ter 2","Ter 3"],"range":["#F5A68B","#939CC8","#9AD8C3"]},"legend":{"title":"Length","orient":"none","legendX":80,"legendY":-36,"direction":"horizontal","titleOrient":"left","titleFontSize":12.5,"titleFontWeight":"normal","titleColor":"#000","titlePadding":8,"labelFontSize":9.5,"labelColor":"#000","labelOffset":8,"columnPadding":9,"symbolType":"M-1,0H1M0,-0.5V0.5","symbolSize":256,"symbolStrokeWidth":1.6}}}},
{"data":{"name":"cens"},"transform":[{"filter":"datum.p=='d'"}],"mark":{"type":"point","shape":"M-1,0H1M0,-1V1","size":64,"strokeWidth":1.3,"filled":false,"opacity":1},
"encoding":{"x":{"field":"t","type":"quantitative","title":"Time in days","scale":{"domain":[-150,3150],"nice":false,"zero":false}},"y":{"field":"s","type":"quantitative","title":"Survival probability","scale":{"domain":[-0.05,1.05],"nice":false,"zero":false}},"color":{"field":"g","type":"nominal","legend":null}}},
{"data":{"name":"medh"},"transform":[{"filter":"datum.p=='d'"}],"mark":{"type":"rule","strokeDash":[5,3.5],"color":"#000","strokeWidth":1},
"encoding":{"x":{"field":"t0","type":"quantitative","title":"Time in days","scale":{"domain":[-150,3150],"nice":false,"zero":false}},"x2":{"field":"t"},"y":{"field":"s","type":"quantitative","title":"Survival probability","scale":{"domain":[-0.05,1.05],"nice":false,"zero":false}}}},
{"data":{"name":"medv"},"transform":[{"filter":"datum.p=='d'"}],"mark":{"type":"rule","strokeDash":[5,3.5],"color":"#000","strokeWidth":1},
"encoding":{"x":{"field":"t","type":"quantitative","title":"Time in days","scale":{"domain":[-150,3150],"nice":false,"zero":false}},"y":{"field":"s","type":"quantitative","title":"Survival probability","scale":{"domain":[-0.05,1.05],"nice":false,"zero":false}},"y2":{"field":"s0"}}},
{"data":{"name":"pv"},"transform":[{"filter":"datum.p=='d'"}],"mark":{"type":"text","align":"left","baseline":"middle","fontSize":16.5,"color":"#000"},
"encoding":{"x":{"field":"t","type":"quantitative","title":"Time in days","scale":{"domain":[-150,3150],"nice":false,"zero":false}},"y":{"field":"s","type":"quantitative","title":"Survival probability","scale":{"domain":[-0.05,1.05],"nice":false,"zero":false}},"text":{"field":"label","type":"nominal"}}}
]},
{"width":55.6,"height":331.7,"data":{"values":[{"k":0}]},"mark":{"type":"point","opacity":0},"encoding":{"x":{"value":1},"y":{"value":1}}},
{"width":367,"height":331.7,
"title":{"text":"e)","dx":-33,"dy":46,"offset":0,"baseline":"alphabetic"},
"layer":[
{"data":{"name":"km"},"transform":[{"filter":"datum.p=='e'"}],"mark":{"type":"line","interpolate":"step-after","strokeWidth":2},
"encoding":{"x":{"field":"t","type":"quantitative","title":"Time in days","scale":{"domain":[-150,3150],"nice":false,"zero":false},"axis":{"values":[0,1000,2000,3000],"format":"d","grid":false,"domainColor":"#000","domainWidth":1.2,"tickColor":"#000","tickSize":4,"labelFontSize":10.5,"labelColor":"#000","labelPadding":1,"labelFlush":false,"titleFontSize":23.5,"titlePadding":5}},
"y":{"field":"s","type":"quantitative","title":"Survival probability","scale":{"domain":[-0.05,1.05],"nice":false,"zero":false},"axis":{"values":[0,0.25,0.5,0.75,1],"format":".2f","grid":false,"domainColor":"#000","domainWidth":1.2,"tickColor":"#000","tickSize":4,"labelFontSize":11,"labelColor":"#000","labelPadding":2,"titleFontSize":23.5,"titlePadding":6}},
"color":{"field":"g","type":"nominal","scale":{"domain":["Ter 1","Ter 2","Ter 3"],"range":["#6B9A52","#86D4F6","#67365F"]},"legend":{"title":"Abs change","orient":"none","legendX":64,"legendY":-36,"direction":"horizontal","titleOrient":"left","titleFontSize":12.5,"titleFontWeight":"normal","titleColor":"#000","titlePadding":8,"labelFontSize":9.5,"labelColor":"#000","labelOffset":8,"columnPadding":9,"symbolType":"M-1,0H1M0,-0.5V0.5","symbolSize":256,"symbolStrokeWidth":1.6}}}},
{"data":{"name":"cens"},"transform":[{"filter":"datum.p=='e'"}],"mark":{"type":"point","shape":"M-1,0H1M0,-1V1","size":64,"strokeWidth":1.3,"filled":false,"opacity":1},
"encoding":{"x":{"field":"t","type":"quantitative","title":"Time in days","scale":{"domain":[-150,3150],"nice":false,"zero":false}},"y":{"field":"s","type":"quantitative","title":"Survival probability","scale":{"domain":[-0.05,1.05],"nice":false,"zero":false}},"color":{"field":"g","type":"nominal","legend":null}}},
{"data":{"name":"medh"},"transform":[{"filter":"datum.p=='e'"}],"mark":{"type":"rule","strokeDash":[5,3.5],"color":"#000","strokeWidth":1},
"encoding":{"x":{"field":"t0","type":"quantitative","title":"Time in days","scale":{"domain":[-150,3150],"nice":false,"zero":false}},"x2":{"field":"t"},"y":{"field":"s","type":"quantitative","title":"Survival probability","scale":{"domain":[-0.05,1.05],"nice":false,"zero":false}}}},
{"data":{"name":"medv"},"transform":[{"filter":"datum.p=='e'"}],"mark":{"type":"rule","strokeDash":[5,3.5],"color":"#000","strokeWidth":1},
"encoding":{"x":{"field":"t","type":"quantitative","title":"Time in days","scale":{"domain":[-150,3150],"nice":false,"zero":false}},"y":{"field":"s","type":"quantitative","title":"Survival probability","scale":{"domain":[-0.05,1.05],"nice":false,"zero":false}},"y2":{"field":"s0"}}},
{"data":{"name":"pv"},"transform":[{"filter":"datum.p=='e'"}],"mark":{"type":"text","align":"left","baseline":"middle","fontSize":16.5,"color":"#000"},
"encoding":{"x":{"field":"t","type":"quantitative","title":"Time in days","scale":{"domain":[-150,3150],"nice":false,"zero":false}},"y":{"field":"s","type":"quantitative","title":"Survival probability","scale":{"domain":[-0.05,1.05],"nice":false,"zero":false}},"text":{"field":"label","type":"nominal"}}}
]},
{"width":54.7,"height":331.7,"data":{"values":[{"k":0}]},"mark":{"type":"point","opacity":0},"encoding":{"x":{"value":1},"y":{"value":1}}},
{"width":367,"height":331.7,
"title":{"text":"f)","dx":-27,"dy":46,"offset":0,"baseline":"alphabetic"},
"layer":[
{"data":{"name":"km"},"transform":[{"filter":"datum.p=='f'"}],"mark":{"type":"line","interpolate":"step-after","strokeWidth":2},
"encoding":{"x":{"field":"t","type":"quantitative","title":"Time in days","scale":{"domain":[-150,3150],"nice":false,"zero":false},"axis":{"values":[0,1000,2000,3000],"format":"d","grid":false,"domainColor":"#000","domainWidth":1.2,"tickColor":"#000","tickSize":4,"labelFontSize":10.5,"labelColor":"#000","labelPadding":1,"labelFlush":false,"titleFontSize":23.5,"titlePadding":5}},
"y":{"field":"s","type":"quantitative","title":"Survival probability","scale":{"domain":[-0.05,1.05],"nice":false,"zero":false},"axis":{"values":[0,0.25,0.5,0.75,1],"format":".2f","grid":false,"domainColor":"#000","domainWidth":1.2,"tickColor":"#000","tickSize":4,"labelFontSize":11,"labelColor":"#000","labelPadding":2,"titleFontSize":23.5,"titlePadding":6}},
"color":{"field":"g","type":"nominal","scale":{"domain":["Ter 1","Ter 2","Ter 3"],"range":["#BEAB97","#FF6540","#84D8F9"]},"legend":{"title":"Change","orient":"none","legendX":76,"legendY":-36,"direction":"horizontal","titleOrient":"left","titleFontSize":12.5,"titleFontWeight":"normal","titleColor":"#000","titlePadding":8,"labelFontSize":9.5,"labelColor":"#000","labelOffset":8,"columnPadding":9,"symbolType":"M-1,0H1M0,-0.5V0.5","symbolSize":256,"symbolStrokeWidth":1.6}}}},
{"data":{"name":"cens"},"transform":[{"filter":"datum.p=='f'"}],"mark":{"type":"point","shape":"M-1,0H1M0,-1V1","size":64,"strokeWidth":1.3,"filled":false,"opacity":1},
"encoding":{"x":{"field":"t","type":"quantitative","title":"Time in days","scale":{"domain":[-150,3150],"nice":false,"zero":false}},"y":{"field":"s","type":"quantitative","title":"Survival probability","scale":{"domain":[-0.05,1.05],"nice":false,"zero":false}},"color":{"field":"g","type":"nominal","legend":null}}},
{"data":{"name":"medh"},"transform":[{"filter":"datum.p=='f'"}],"mark":{"type":"rule","strokeDash":[5,3.5],"color":"#000","strokeWidth":1},
"encoding":{"x":{"field":"t0","type":"quantitative","title":"Time in days","scale":{"domain":[-150,3150],"nice":false,"zero":false}},"x2":{"field":"t"},"y":{"field":"s","type":"quantitative","title":"Survival probability","scale":{"domain":[-0.05,1.05],"nice":false,"zero":false}}}},
{"data":{"name":"medv"},"transform":[{"filter":"datum.p=='f'"}],"mark":{"type":"rule","strokeDash":[5,3.5],"color":"#000","strokeWidth":1},
"encoding":{"x":{"field":"t","type":"quantitative","title":"Time in days","scale":{"domain":[-150,3150],"nice":false,"zero":false}},"y":{"field":"s","type":"quantitative","title":"Survival probability","scale":{"domain":[-0.05,1.05],"nice":false,"zero":false}},"y2":{"field":"s0"}}},
{"data":{"name":"pv"},"transform":[{"filter":"datum.p=='f'"}],"mark":{"type":"text","align":"left","baseline":"middle","fontSize":16.5,"color":"#000"},
"encoding":{"x":{"field":"t","type":"quantitative","title":"Time in days","scale":{"domain":[-150,3150],"nice":false,"zero":false}},"y":{"field":"s","type":"quantitative","title":"Survival probability","scale":{"domain":[-0.05,1.05],"nice":false,"zero":false}},"text":{"field":"label","type":"nominal"}}}
]}
],"spacing":0,"bounds":"flush","resolve":{"scale":{"color":"independent","x":"independent","y":"independent"},"legend":{"color":"independent"}}}
]
}
